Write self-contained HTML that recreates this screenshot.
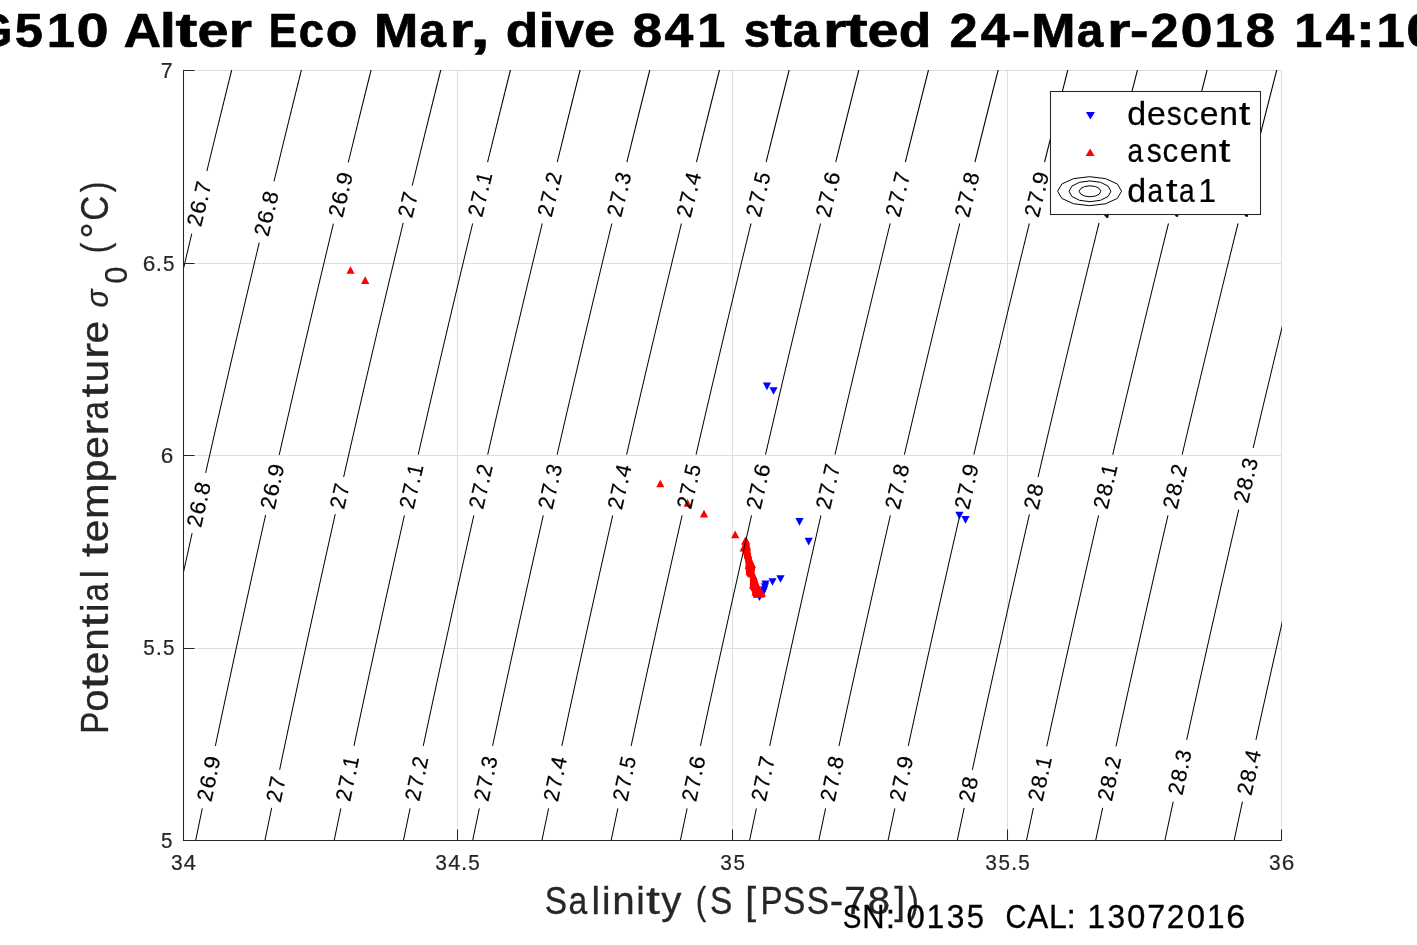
<!DOCTYPE html>
<html><head><meta charset="utf-8"><title>TS diagram</title><style>html,body{margin:0;padding:0;background:#fff;overflow:hidden;}svg{display:block;font-family:"Liberation Sans",sans-serif;will-change:transform;}</style></head><body>
<svg width="1417" height="945" viewBox="0 0 1417 945" font-family="'Liberation Sans', sans-serif"><defs><clipPath id="axclip"><rect x="183" y="70" width="1099" height="771"/></clipPath></defs><rect x="0" y="0" width="1417" height="945" fill="#fff"/>
<line x1="457.5" y1="70" x2="457.5" y2="841" stroke="#dedede" stroke-width="1"/>
<line x1="732.5" y1="70" x2="732.5" y2="841" stroke="#dedede" stroke-width="1"/>
<line x1="1007.5" y1="70" x2="1007.5" y2="841" stroke="#dedede" stroke-width="1"/>
<line x1="1281.5" y1="70" x2="1281.5" y2="841" stroke="#dedede" stroke-width="1"/>
<line x1="183" y1="70.5" x2="1282" y2="70.5" stroke="#dedede" stroke-width="1"/>
<line x1="183" y1="263.5" x2="1282" y2="263.5" stroke="#dedede" stroke-width="1"/>
<line x1="183" y1="455.5" x2="1282" y2="455.5" stroke="#dedede" stroke-width="1"/>
<line x1="183" y1="648.5" x2="1282" y2="648.5" stroke="#dedede" stroke-width="1"/>
<path d="M762.90 382.55L771.10 382.55L767.00 390.25Z" fill="#00f"/>
<path d="M769.40 387.15L777.60 387.15L773.50 394.85Z" fill="#00f"/>
<path d="M795.40 518.05L803.60 518.05L799.50 525.75Z" fill="#00f"/>
<path d="M804.60 537.75L812.80 537.75L808.70 545.45Z" fill="#00f"/>
<path d="M955.30 511.75L963.50 511.75L959.40 519.45Z" fill="#00f"/>
<path d="M961.40 516.05L969.60 516.05L965.50 523.75Z" fill="#00f"/>
<path d="M776.40 575.15L784.60 575.15L780.50 582.85Z" fill="#00f"/>
<path d="M768.40 578.15L776.60 578.15L772.50 585.85Z" fill="#00f"/>
<path d="M761.40 580.45L769.60 580.45L765.50 588.15Z" fill="#00f"/>
<path d="M760.80 583.35L769.00 583.35L764.90 591.05Z" fill="#00f"/>
<path d="M759.90 586.15L768.10 586.15L764.00 593.85Z" fill="#00f"/>
<path d="M759.10 588.15L767.30 588.15L763.20 595.85Z" fill="#00f"/>
<path d="M757.90 590.65L766.10 590.65L762.00 598.35Z" fill="#00f"/>
<path d="M755.40 593.25L763.60 593.25L759.50 600.95Z" fill="#00f"/>
<path d="M350.50 266.15L354.60 273.85L346.40 273.85Z" fill="#f00"/>
<path d="M365.20 276.35L369.30 284.05L361.10 284.05Z" fill="#f00"/>
<path d="M660.30 479.65L664.40 487.35L656.20 487.35Z" fill="#f00"/>
<path d="M687.60 499.05L691.70 506.75L683.50 506.75Z" fill="#f00"/>
<path d="M704.00 509.85L708.10 517.55L699.90 517.55Z" fill="#f00"/>
<path d="M735.20 530.45L739.30 538.15L731.10 538.15Z" fill="#f00"/>
<path d="M746.6 538.1L749.5 543.9L750.3 549.5L751.6 558.2L755.3 567.7L754.5 572.8L757.3 579.9L759.7 586.9L765.3 596.3L764.2 597.5L753.5 597.5L751.5 590.8L749.8 588.5L750.1 577.9L746.4 575.5L745.5 568.5L745.5 562.3L744.5 558.2L742.5 551.2L742.3 544.3Z" fill="#f00"/>
<path d="M745.30 536.85L749.40 544.55L741.20 544.55Z" fill="#f00"/>
<path d="M743.60 543.75L747.70 551.45L739.50 551.45Z" fill="#f00"/>
<path d="M747.90 550.75L752.00 558.45L743.80 558.45Z" fill="#f00"/>
<path d="M749.00 554.85L753.10 562.55L744.90 562.55Z" fill="#f00"/>
<path d="M748.80 561.05L752.90 568.75L744.70 568.75Z" fill="#f00"/>
<path d="M749.60 567.35L753.70 575.05L745.50 575.05Z" fill="#f00"/>
<path d="M753.30 581.05L757.40 588.75L749.20 588.75Z" fill="#f00"/>
<path d="M755.10 583.35L759.20 591.05L751.00 591.05Z" fill="#f00"/>
<path d="M755.50 588.05L759.60 595.75L751.40 595.75Z" fill="#f00"/>
<path d="M757.00 590.05L761.10 597.75L752.90 597.75Z" fill="#f00"/>
<path d="M751.20 569.65L755.30 577.35L747.10 577.35Z" fill="#f00"/>
<path d="M746.10 536.45L750.20 544.15L742.00 544.15Z" fill="#f00"/>
<path d="M746.90 542.05L751.00 549.75L742.80 549.75Z" fill="#f00"/>
<path d="M748.20 550.75L752.30 558.45L744.10 558.45Z" fill="#f00"/>
<path d="M751.90 560.25L756.00 567.95L747.80 567.95Z" fill="#f00"/>
<path d="M753.70 572.45L757.80 580.15L749.60 580.15Z" fill="#f00"/>
<path d="M756.10 579.45L760.20 587.15L752.00 587.15Z" fill="#f00"/>
<path d="M761.80 588.85L765.90 596.55L757.70 596.55Z" fill="#f00"/>
<g clip-path="url(#axclip)" fill="none" stroke="#000" stroke-width="1.05">
<path d="M232.08 68.50L231.58 70.50L231.08 72.50L230.58 74.50L230.09 76.50L229.59 78.50L229.10 80.50L228.60 82.50L228.10 84.50L227.61 86.50L227.11 88.50L226.62 90.50L226.13 92.50L225.63 94.50L225.14 96.50L224.64 98.50L224.15 100.50L223.66 102.50L223.16 104.50L222.67 106.50L222.18 108.50L221.68 110.50L221.19 112.50L220.70 114.50L220.21 116.50L219.72 118.50L219.22 120.50L218.73 122.50L218.24 124.50L217.75 126.50L217.26 128.50L216.77 130.50L216.28 132.50L215.79 134.50L215.30 136.50L214.81 138.50L214.32 140.50L213.83 142.50L213.35 144.50L212.86 146.50L212.37 148.50L211.88 150.50L211.39 152.50L210.91 154.50L210.42 156.50L209.93 158.50L209.44 160.50L208.96 162.50L208.47 164.50L207.98 166.50L207.50 168.50L207.01 170.50L206.84 171.20 M191.80 233.60L191.59 234.50L191.11 236.50L190.63 238.50L190.15 240.50L189.68 242.50L189.20 244.50L188.72 246.50L188.24 248.50L187.77 250.50L187.29 252.50L186.81 254.50L186.34 256.50L185.86 258.50L185.39 260.50L184.91 262.50L184.44 264.50L183.96 266.50L183.49 268.50L183.01 270.50L182.54 272.50L182.06 274.50L181.59 276.50L181.12 278.50L180.64 280.50L180.17 282.50L179.70 284.50L179.23 286.50L178.75 288.50L178.28 290.50L177.81 292.50L177.34 294.50L176.87 296.50L176.39 298.50L175.92 300.50L175.45 302.50L174.98 304.50L174.51 306.50L174.04 308.50L173.57 310.50L173.10 312.50L172.63 314.50L172.16 316.50L171.69 318.50L171.23 320.50L170.76 322.50L170.29 324.50L169.82 326.50L169.35 328.50L168.89 330.50L168.42 332.50L167.95 334.50L167.48 336.50L167.02 338.50L166.55 340.50L166.08 342.50L165.62 344.50L165.15 346.50L164.69 348.50L164.22 350.50L163.76 352.50L163.29 354.50L162.83 356.50L162.36 358.50L161.90 360.50L161.43 362.50L160.97 364.50L160.51 366.50L160.04 368.50L159.58 370.50L159.12 372.50L158.66 374.50L158.19 376.50L157.73 378.50L157.27 380.50L156.81 382.50L156.35 384.50L155.89 386.50L155.42 388.50L154.96 390.50L154.50 392.50L154.04 394.50L153.58 396.50L153.12 398.50L152.66 400.50L152.20 402.50L151.74 404.50L151.29 406.50L150.83 408.50L150.37 410.50L149.91 412.50L149.45 414.50L148.99 416.50L148.54 418.50L148.08 420.50L147.62 422.50L147.17 424.50L146.71 426.50L146.25 428.50L145.80 430.50L145.34 432.50L144.88 434.50L144.43 436.50L143.97 438.50L143.52 440.50L143.06 442.50L142.61 444.50L142.16 446.50L141.70 448.50L141.25 450.50L140.79 452.50L140.34 454.50L139.89 456.50L139.43 458.50L138.98 460.50L138.53 462.50L138.08 464.50L137.62 466.50L137.17 468.50L136.72 470.50L136.27 472.50L135.82 474.50L135.37 476.50L134.92 478.50L134.47 480.50L134.02 482.50L133.57 484.50L133.12 486.50L132.67 488.50L132.22 490.50L131.77 492.50L131.32 494.50L130.87 496.50L130.42 498.50L129.97 500.50L129.53 502.50L129.08 504.50L128.63 506.50L128.18 508.50L127.74 510.50L127.29 512.50L126.84 514.50L126.40 516.50L125.95 518.50L125.51 520.50L125.06 522.50L124.62 524.50L124.17 526.50L123.73 528.50L123.28 530.50L122.84 532.50L122.39 534.50L121.95 536.50L121.50 538.50L121.06 540.50L120.62 542.50L120.17 544.50L119.73 546.50L119.29 548.50L118.85 550.50L118.40 552.50L117.96 554.50L117.52 556.50L117.08 558.50L116.64 560.50L116.20 562.50L115.76 564.50L115.32 566.50L114.88 568.50L114.44 570.50L114.00 572.50L113.56 574.50L113.12 576.50L112.68 578.50L112.24 580.50L111.80 582.50L111.36 584.50L110.92 586.50L110.48 588.50L110.05 590.50L109.61 592.50L109.17 594.50L108.74 596.50L108.30 598.50L107.86 600.50L107.43 602.50L106.99 604.50L106.55 606.50L106.12 608.50L105.68 610.50L105.25 612.50L104.81 614.50L104.38 616.50L103.94 618.50L103.51 620.50L103.07 622.50L102.64 624.50L102.21 626.50L101.77 628.50L101.34 630.50L100.91 632.50L100.47 634.50L100.04 636.50L99.61 638.50L99.18 640.50L98.75 642.50L98.31 644.50L97.88 646.50L97.45 648.50L97.02 650.50L96.59 652.50L96.16 654.50L95.73 656.50L95.30 658.50L94.87 660.50L94.44 662.50L94.01 664.50L93.58 666.50L93.15 668.50L92.73 670.50L92.30 672.50L91.87 674.50L91.44 676.50L91.01 678.50L90.59 680.50L90.16 682.50L89.73 684.50L89.31 686.50L88.88 688.50L88.45 690.50L88.03 692.50L87.60 694.50L87.18 696.50L86.75 698.50L86.33 700.50L85.90 702.50L85.48 704.50L85.05 706.50L84.63 708.50L84.21 710.50L83.78 712.50L83.36 714.50L82.93 716.50L82.51 718.50L82.09 720.50L81.67 722.50L81.24 724.50L80.82 726.50L80.40 728.50L79.98 730.50L79.56 732.50L79.14 734.50L78.72 736.50L78.30 738.50L77.88 740.50L77.45 742.50L77.04 744.50L76.62 746.50L76.20 748.50L75.78 750.50L75.36 752.50L74.94 754.50L74.52 756.50L74.10 758.50L73.68 760.50L73.27 762.50L72.85 764.50L72.43 766.50L72.01 768.50L71.60 770.50L71.18 772.50L70.76 774.50L70.35 776.50L69.93 778.50L69.52 780.50L69.10 782.50L68.69 784.50L68.27 786.50L67.86 788.50L67.44 790.50L67.03 792.50L66.61 794.50L66.20 796.50L65.79 798.50L65.37 800.50L64.96 802.50L64.55 804.50L64.13 806.50L63.72 808.50L63.31 810.50L62.90 812.50L62.49 814.50L62.07 816.50L61.66 818.50L61.25 820.50L60.84 822.50L60.43 824.50L60.02 826.50L59.61 828.50L59.20 830.50L58.79 832.50L58.38 834.50L57.97 836.50L57.56 838.50L57.15 840.50L56.75 842.50 M301.77 68.50L301.27 70.50L300.78 72.50L300.28 74.50L299.78 76.50L299.28 78.50L298.79 80.50L298.29 82.50L297.79 84.50L297.30 86.50L296.80 88.50L296.30 90.50L295.81 92.50L295.31 94.50L294.82 96.50L294.32 98.50L293.83 100.50L293.33 102.50L292.84 104.50L292.34 106.50L291.85 108.50L291.36 110.50L290.86 112.50L290.37 114.50L289.88 116.50L289.38 118.50L288.89 120.50L288.40 122.50L287.91 124.50L287.42 126.50L286.92 128.50L286.43 130.50L285.94 132.50L285.45 134.50L284.96 136.50L284.47 138.50L283.98 140.50L283.49 142.50L283.00 144.50L282.51 146.50L282.02 148.50L281.53 150.50L281.04 152.50L280.55 154.50L280.07 156.50L279.58 158.50L279.09 160.50L278.60 162.50L278.11 164.50L277.63 166.50L277.14 168.50L276.65 170.50L276.17 172.50L275.68 174.50L275.19 176.50L274.71 178.50L274.22 180.50L274.03 181.30 M259.23 242.70L258.80 244.50L258.32 246.50L257.84 248.50L257.36 250.50L256.89 252.50L256.41 254.50L255.93 256.50L255.45 258.50L254.98 260.50L254.50 262.50L254.02 264.50L253.55 266.50L253.07 268.50L252.60 270.50L252.12 272.50L251.65 274.50L251.17 276.50L250.70 278.50L250.22 280.50L249.75 282.50L249.27 284.50L248.80 286.50L248.33 288.50L247.85 290.50L247.38 292.50L246.91 294.50L246.44 296.50L245.96 298.50L245.49 300.50L245.02 302.50L244.55 304.50L244.08 306.50L243.60 308.50L243.13 310.50L242.66 312.50L242.19 314.50L241.72 316.50L241.25 318.50L240.78 320.50L240.31 322.50L239.84 324.50L239.37 326.50L238.90 328.50L238.44 330.50L237.97 332.50L237.50 334.50L237.03 336.50L236.56 338.50L236.10 340.50L235.63 342.50L235.16 344.50L234.69 346.50L234.23 348.50L233.76 350.50L233.30 352.50L232.83 354.50L232.36 356.50L231.90 358.50L231.43 360.50L230.97 362.50L230.50 364.50L230.04 366.50L229.57 368.50L229.11 370.50L228.65 372.50L228.18 374.50L227.72 376.50L227.26 378.50L226.79 380.50L226.33 382.50L225.87 384.50L225.40 386.50L224.94 388.50L224.48 390.50L224.02 392.50L223.56 394.50L223.10 396.50L222.64 398.50L222.17 400.50L221.71 402.50L221.25 404.50L220.79 406.50L220.33 408.50L219.87 410.50L219.41 412.50L218.96 414.50L218.50 416.50L218.04 418.50L217.58 420.50L217.12 422.50L216.66 424.50L216.21 426.50L215.75 428.50L215.29 430.50L214.83 432.50L214.38 434.50L213.92 436.50L213.46 438.50L213.01 440.50L212.55 442.50L212.10 444.50L211.64 446.50L211.19 448.50L210.73 450.50L210.28 452.50L209.82 454.50L209.37 456.50L208.91 458.50L208.46 460.50L208.00 462.50L207.55 464.50L207.10 466.50L206.65 468.50L206.19 470.50L205.74 472.50L205.67 472.80 M192.12 533.20L191.83 534.50L191.38 536.50L190.94 538.50L190.49 540.50L190.05 542.50L189.60 544.50L189.16 546.50L188.72 548.50L188.27 550.50L187.83 552.50L187.39 554.50L186.94 556.50L186.50 558.50L186.06 560.50L185.62 562.50L185.17 564.50L184.73 566.50L184.29 568.50L183.85 570.50L183.41 572.50L182.97 574.50L182.53 576.50L182.09 578.50L181.65 580.50L181.21 582.50L180.77 584.50L180.33 586.50L179.89 588.50L179.45 590.50L179.01 592.50L178.57 594.50L178.13 596.50L177.70 598.50L177.26 600.50L176.82 602.50L176.38 604.50L175.95 606.50L175.51 608.50L175.07 610.50L174.64 612.50L174.20 614.50L173.76 616.50L173.33 618.50L172.89 620.50L172.46 622.50L172.02 624.50L171.59 626.50L171.15 628.50L170.72 630.50L170.29 632.50L169.85 634.50L169.42 636.50L168.99 638.50L168.55 640.50L168.12 642.50L167.69 644.50L167.25 646.50L166.82 648.50L166.39 650.50L165.96 652.50L165.53 654.50L165.10 656.50L164.66 658.50L164.23 660.50L163.80 662.50L163.37 664.50L162.94 666.50L162.51 668.50L162.08 670.50L161.65 672.50L161.22 674.50L160.80 676.50L160.37 678.50L159.94 680.50L159.51 682.50L159.08 684.50L158.65 686.50L158.23 688.50L157.80 690.50L157.37 692.50L156.95 694.50L156.52 696.50L156.09 698.50L155.67 700.50L155.24 702.50L154.81 704.50L154.39 706.50L153.96 708.50L153.54 710.50L153.11 712.50L152.69 714.50L152.26 716.50L151.84 718.50L151.42 720.50L150.99 722.50L150.57 724.50L150.15 726.50L149.72 728.50L149.30 730.50L148.88 732.50L148.46 734.50L148.03 736.50L147.61 738.50L147.19 740.50L146.77 742.50L146.35 744.50L145.93 746.50L145.51 748.50L145.09 750.50L144.67 752.50L144.25 754.50L143.83 756.50L143.41 758.50L142.99 760.50L142.57 762.50L142.15 764.50L141.73 766.50L141.31 768.50L140.90 770.50L140.48 772.50L140.06 774.50L139.64 776.50L139.23 778.50L138.81 780.50L138.39 782.50L137.98 784.50L137.56 786.50L137.14 788.50L136.73 790.50L136.31 792.50L135.90 794.50L135.48 796.50L135.07 798.50L134.65 800.50L134.24 802.50L133.83 804.50L133.41 806.50L133.00 808.50L132.58 810.50L132.17 812.50L131.76 814.50L131.35 816.50L130.93 818.50L130.52 820.50L130.11 822.50L129.70 824.50L129.29 826.50L128.87 828.50L128.46 830.50L128.05 832.50L127.64 834.50L127.23 836.50L126.82 838.50L126.41 840.50L126.00 842.50 M371.46 68.50L370.96 70.50L370.47 72.50L369.97 74.50L369.47 76.50L368.97 78.50L368.47 80.50L367.97 82.50L367.48 84.50L366.98 86.50L366.48 88.50L365.98 90.50L365.49 92.50L364.99 94.50L364.49 96.50L364.00 98.50L363.50 100.50L363.01 102.50L362.51 104.50L362.02 106.50L361.52 108.50L361.03 110.50L360.53 112.50L360.04 114.50L359.54 116.50L359.05 118.50L358.56 120.50L358.06 122.50L357.57 124.50L357.08 126.50L356.58 128.50L356.09 130.50L355.60 132.50L355.11 134.50L354.62 136.50L354.12 138.50L353.63 140.50L353.14 142.50L352.65 144.50L352.16 146.50L351.67 148.50L351.18 150.50L350.69 152.50L350.20 154.50L349.71 156.50L349.22 158.50L348.73 160.50L348.29 162.30 M333.39 223.70L333.20 224.50L332.72 226.50L332.24 228.50L331.75 230.50L331.27 232.50L330.79 234.50L330.31 236.50L329.83 238.50L329.35 240.50L328.87 242.50L328.39 244.50L327.91 246.50L327.43 248.50L326.95 250.50L326.48 252.50L326.00 254.50L325.52 256.50L325.04 258.50L324.56 260.50L324.09 262.50L323.61 264.50L323.13 266.50L322.65 268.50L322.18 270.50L321.70 272.50L321.23 274.50L320.75 276.50L320.27 278.50L319.80 280.50L319.32 282.50L318.85 284.50L318.37 286.50L317.90 288.50L317.42 290.50L316.95 292.50L316.48 294.50L316.00 296.50L315.53 298.50L315.06 300.50L314.58 302.50L314.11 304.50L313.64 306.50L313.16 308.50L312.69 310.50L312.22 312.50L311.75 314.50L311.28 316.50L310.81 318.50L310.34 320.50L309.86 322.50L309.39 324.50L308.92 326.50L308.45 328.50L307.98 330.50L307.51 332.50L307.04 334.50L306.58 336.50L306.11 338.50L305.64 340.50L305.17 342.50L304.70 344.50L304.23 346.50L303.77 348.50L303.30 350.50L302.83 352.50L302.36 354.50L301.90 356.50L301.43 358.50L300.96 360.50L300.50 362.50L300.03 364.50L299.57 366.50L299.10 368.50L298.63 370.50L298.17 372.50L297.70 374.50L297.24 376.50L296.78 378.50L296.31 380.50L295.85 382.50L295.38 384.50L294.92 386.50L294.46 388.50L293.99 390.50L293.53 392.50L293.07 394.50L292.61 396.50L292.14 398.50L291.68 400.50L291.22 402.50L290.76 404.50L290.30 406.50L289.84 408.50L289.38 410.50L288.92 412.50L288.46 414.50L288.00 416.50L287.54 418.50L287.08 420.50L286.62 422.50L286.16 424.50L285.70 426.50L285.24 428.50L284.78 430.50L284.32 432.50L283.87 434.50L283.41 436.50L282.95 438.50L282.49 440.50L282.04 442.50L281.58 444.50L281.12 446.50L280.67 448.50L280.21 450.50L279.75 452.50L279.30 454.50L279.23 454.80 M265.58 515.20L265.29 516.50L264.84 518.50L264.39 520.50L263.94 522.50L263.49 524.50L263.05 526.50L262.60 528.50L262.15 530.50L261.70 532.50L261.26 534.50L260.81 536.50L260.37 538.50L259.92 540.50L259.47 542.50L259.03 544.50L258.58 546.50L258.14 548.50L257.69 550.50L257.25 552.50L256.81 554.50L256.36 556.50L255.92 558.50L255.47 560.50L255.03 562.50L254.59 564.50L254.15 566.50L253.70 568.50L253.26 570.50L252.82 572.50L252.38 574.50L251.93 576.50L251.49 578.50L251.05 580.50L250.61 582.50L250.17 584.50L249.73 586.50L249.29 588.50L248.85 590.50L248.41 592.50L247.97 594.50L247.53 596.50L247.09 598.50L246.65 600.50L246.21 602.50L245.78 604.50L245.34 606.50L244.90 608.50L244.46 610.50L244.02 612.50L243.59 614.50L243.15 616.50L242.71 618.50L242.28 620.50L241.84 622.50L241.40 624.50L240.97 626.50L240.53 628.50L240.10 630.50L239.66 632.50L239.23 634.50L238.79 636.50L238.36 638.50L237.92 640.50L237.49 642.50L237.05 644.50L236.62 646.50L236.19 648.50L235.75 650.50L235.32 652.50L234.89 654.50L234.46 656.50L234.02 658.50L233.59 660.50L233.16 662.50L232.73 664.50L232.30 666.50L231.87 668.50L231.44 670.50L231.01 672.50L230.58 674.50L230.15 676.50L229.72 678.50L229.29 680.50L228.86 682.50L228.43 684.50L228.00 686.50L227.57 688.50L227.14 690.50L226.71 692.50L226.28 694.50L225.86 696.50L225.43 698.50L225.00 700.50L224.57 702.50L224.15 704.50L223.72 706.50L223.29 708.50L222.87 710.50L222.44 712.50L222.02 714.50L221.59 716.50L221.17 718.50L220.74 720.50L220.32 722.50L219.89 724.50L219.47 726.50L219.04 728.50L218.62 730.50L218.20 732.50L217.77 734.50L217.35 736.50L216.93 738.50L216.50 740.50L216.08 742.50L215.66 744.50L215.36 745.90 M202.31 808.30L202.27 808.50L201.86 810.50L201.44 812.50L201.03 814.50L200.61 816.50L200.20 818.50L199.79 820.50L199.37 822.50L198.96 824.50L198.55 826.50L198.14 828.50L197.72 830.50L197.31 832.50L196.90 834.50L196.49 836.50L196.08 838.50L195.67 840.50L195.25 842.50 M441.15 68.50L440.65 70.50L440.15 72.50L439.65 74.50L439.15 76.50L438.65 78.50L438.15 80.50L437.66 82.50L437.16 84.50L436.66 86.50L436.16 88.50L435.66 90.50L435.16 92.50L434.67 94.50L434.17 96.50L433.67 98.50L433.17 100.50L432.68 102.50L432.18 104.50L431.68 106.50L431.19 108.50L430.69 110.50L430.20 112.50L429.70 114.50L429.21 116.50L428.71 118.50L428.22 120.50L427.72 122.50L427.23 124.50L426.73 126.50L426.24 128.50L425.75 130.50L425.25 132.50L424.76 134.50L424.27 136.50L423.77 138.50L423.28 140.50L422.79 142.50L422.30 144.50L421.81 146.50L421.31 148.50L420.82 150.50L420.33 152.50L419.84 154.50L419.35 156.50L418.86 158.50L418.37 160.50L417.88 162.50L417.39 164.50L416.90 166.50L416.41 168.50L415.92 170.50L415.43 172.50L414.94 174.50L414.46 176.50L413.97 178.50L413.48 180.50L412.99 182.50L412.50 184.50L412.24 185.60 M403.16 223.00L402.80 224.50L402.32 226.50L401.84 228.50L401.35 230.50L400.87 232.50L400.39 234.50L399.91 236.50L399.43 238.50L398.95 240.50L398.47 242.50L397.98 244.50L397.50 246.50L397.02 248.50L396.54 250.50L396.06 252.50L395.58 254.50L395.10 256.50L394.63 258.50L394.15 260.50L393.67 262.50L393.19 264.50L392.71 266.50L392.23 268.50L391.76 270.50L391.28 272.50L390.80 274.50L390.32 276.50L389.85 278.50L389.37 280.50L388.89 282.50L388.42 284.50L387.94 286.50L387.47 288.50L386.99 290.50L386.51 292.50L386.04 294.50L385.56 296.50L385.09 298.50L384.62 300.50L384.14 302.50L383.67 304.50L383.19 306.50L382.72 308.50L382.25 310.50L381.77 312.50L381.30 314.50L380.83 316.50L380.36 318.50L379.88 320.50L379.41 322.50L378.94 324.50L378.47 326.50L378.00 328.50L377.53 330.50L377.06 332.50L376.59 334.50L376.12 336.50L375.65 338.50L375.18 340.50L374.71 342.50L374.24 344.50L373.77 346.50L373.30 348.50L372.83 350.50L372.36 352.50L371.89 354.50L371.43 356.50L370.96 358.50L370.49 360.50L370.02 362.50L369.56 364.50L369.09 366.50L368.62 368.50L368.16 370.50L367.69 372.50L367.22 374.50L366.76 376.50L366.29 378.50L365.83 380.50L365.36 382.50L364.90 384.50L364.43 386.50L363.97 388.50L363.50 390.50L363.04 392.50L362.58 394.50L362.11 396.50L361.65 398.50L361.19 400.50L360.72 402.50L360.26 404.50L359.80 406.50L359.34 408.50L358.88 410.50L358.41 412.50L357.95 414.50L357.49 416.50L357.03 418.50L356.57 420.50L356.11 422.50L355.65 424.50L355.19 426.50L354.73 428.50L354.27 430.50L353.81 432.50L353.35 434.50L352.89 436.50L352.43 438.50L351.97 440.50L351.52 442.50L351.06 444.50L350.60 446.50L350.14 448.50L349.69 450.50L349.23 452.50L348.77 454.50L348.32 456.50L347.86 458.50L347.40 460.50L346.95 462.50L346.49 464.50L346.04 466.50L345.58 468.50L345.13 470.50L344.67 472.50L344.22 474.50L343.76 476.50L343.65 477.00 M335.26 514.10L335.17 514.50L334.72 516.50L334.27 518.50L333.83 520.50L333.38 522.50L332.93 524.50L332.48 526.50L332.03 528.50L331.58 530.50L331.13 532.50L330.69 534.50L330.24 536.50L329.79 538.50L329.35 540.50L328.90 542.50L328.45 544.50L328.01 546.50L327.56 548.50L327.11 550.50L326.67 552.50L326.22 554.50L325.78 556.50L325.33 558.50L324.89 560.50L324.44 562.50L324.00 564.50L323.56 566.50L323.11 568.50L322.67 570.50L322.22 572.50L321.78 574.50L321.34 576.50L320.90 578.50L320.45 580.50L320.01 582.50L319.57 584.50L319.13 586.50L318.69 588.50L318.25 590.50L317.80 592.50L317.36 594.50L316.92 596.50L316.48 598.50L316.04 600.50L315.60 602.50L315.16 604.50L314.72 606.50L314.29 608.50L313.85 610.50L313.41 612.50L312.97 614.50L312.53 616.50L312.09 618.50L311.66 620.50L311.22 622.50L310.78 624.50L310.34 626.50L309.91 628.50L309.47 630.50L309.03 632.50L308.60 634.50L308.16 636.50L307.73 638.50L307.29 640.50L306.85 642.50L306.42 644.50L305.99 646.50L305.55 648.50L305.12 650.50L304.68 652.50L304.25 654.50L303.81 656.50L303.38 658.50L302.95 660.50L302.52 662.50L302.08 664.50L301.65 666.50L301.22 668.50L300.79 670.50L300.35 672.50L299.92 674.50L299.49 676.50L299.06 678.50L298.63 680.50L298.20 682.50L297.77 684.50L297.34 686.50L296.91 688.50L296.48 690.50L296.05 692.50L295.62 694.50L295.19 696.50L294.76 698.50L294.33 700.50L293.91 702.50L293.48 704.50L293.05 706.50L292.62 708.50L292.20 710.50L291.77 712.50L291.34 714.50L290.91 716.50L290.49 718.50L290.06 720.50L289.64 722.50L289.21 724.50L288.78 726.50L288.36 728.50L287.93 730.50L287.51 732.50L287.09 734.50L286.66 736.50L286.24 738.50L285.81 740.50L285.39 742.50L284.97 744.50L284.54 746.50L284.12 748.50L283.70 750.50L283.27 752.50L282.85 754.50L282.43 756.50L282.01 758.50L281.59 760.50L281.17 762.50L280.74 764.50L280.32 766.50L279.90 768.50L279.63 769.80 M271.66 807.90L271.54 808.50L271.12 810.50L270.71 812.50L270.29 814.50L269.88 816.50L269.46 818.50L269.05 820.50L268.63 822.50L268.22 824.50L267.81 826.50L267.39 828.50L266.98 830.50L266.57 832.50L266.15 834.50L265.74 836.50L265.33 838.50L264.92 840.50L264.50 842.50 M510.84 68.50L510.34 70.50L509.84 72.50L509.33 74.50L508.83 76.50L508.33 78.50L507.83 80.50L507.33 82.50L506.83 84.50L506.33 86.50L505.83 88.50L505.33 90.50L504.84 92.50L504.34 94.50L503.84 96.50L503.34 98.50L502.84 100.50L502.34 102.50L501.85 104.50L501.35 106.50L500.85 108.50L500.36 110.50L499.86 112.50L499.36 114.50L498.87 116.50L498.37 118.50L497.87 120.50L497.38 122.50L496.88 124.50L496.39 126.50L495.89 128.50L495.40 130.50L494.90 132.50L494.41 134.50L493.92 136.50L493.42 138.50L492.93 140.50L492.43 142.50L491.94 144.50L491.45 146.50L490.96 148.50L490.46 150.50L489.97 152.50L489.48 154.50L488.99 156.50L488.50 158.50L488.00 160.50L487.59 162.20 M472.64 223.50L472.40 224.50L471.92 226.50L471.43 228.50L470.95 230.50L470.47 232.50L469.98 234.50L469.50 236.50L469.02 238.50L468.54 240.50L468.05 242.50L467.57 244.50L467.09 246.50L466.61 248.50L466.13 250.50L465.65 252.50L465.17 254.50L464.69 256.50L464.21 258.50L463.73 260.50L463.25 262.50L462.77 264.50L462.29 266.50L461.81 268.50L461.33 270.50L460.85 272.50L460.37 274.50L459.89 276.50L459.42 278.50L458.94 280.50L458.46 282.50L457.98 284.50L457.51 286.50L457.03 288.50L456.55 290.50L456.08 292.50L455.60 294.50L455.12 296.50L454.65 298.50L454.17 300.50L453.70 302.50L453.22 304.50L452.75 306.50L452.27 308.50L451.80 310.50L451.32 312.50L450.85 314.50L450.38 316.50L449.90 318.50L449.43 320.50L448.96 322.50L448.48 324.50L448.01 326.50L447.54 328.50L447.07 330.50L446.60 332.50L446.12 334.50L445.65 336.50L445.18 338.50L444.71 340.50L444.24 342.50L443.77 344.50L443.30 346.50L442.83 348.50L442.36 350.50L441.89 352.50L441.42 354.50L440.95 356.50L440.48 358.50L440.01 360.50L439.55 362.50L439.08 364.50L438.61 366.50L438.14 368.50L437.67 370.50L437.21 372.50L436.74 374.50L436.27 376.50L435.81 378.50L435.34 380.50L434.87 382.50L434.41 384.50L433.94 386.50L433.48 388.50L433.01 390.50L432.55 392.50L432.08 394.50L431.62 396.50L431.15 398.50L430.69 400.50L430.22 402.50L429.76 404.50L429.30 406.50L428.83 408.50L428.37 410.50L427.91 412.50L427.45 414.50L426.98 416.50L426.52 418.50L426.06 420.50L425.60 422.50L425.14 424.50L424.67 426.50L424.21 428.50L423.75 430.50L423.29 432.50L422.83 434.50L422.37 436.50L421.91 438.50L421.45 440.50L420.99 442.50L420.53 444.50L420.08 446.50L419.62 448.50L419.16 450.50L418.70 452.50L418.24 454.50L418.22 454.60 M404.43 515.30L404.16 516.50L403.71 518.50L403.26 520.50L402.81 522.50L402.36 524.50L401.91 526.50L401.46 528.50L401.01 530.50L400.56 532.50L400.11 534.50L399.66 536.50L399.21 538.50L398.77 540.50L398.32 542.50L397.87 544.50L397.42 546.50L396.98 548.50L396.53 550.50L396.08 552.50L395.64 554.50L395.19 556.50L394.74 558.50L394.30 560.50L393.85 562.50L393.41 564.50L392.96 566.50L392.52 568.50L392.07 570.50L391.63 572.50L391.18 574.50L390.74 576.50L390.30 578.50L389.85 580.50L389.41 582.50L388.97 584.50L388.52 586.50L388.08 588.50L387.64 590.50L387.20 592.50L386.75 594.50L386.31 596.50L385.87 598.50L385.43 600.50L384.99 602.50L384.55 604.50L384.11 606.50L383.67 608.50L383.23 610.50L382.79 612.50L382.35 614.50L381.91 616.50L381.47 618.50L381.03 620.50L380.59 622.50L380.15 624.50L379.72 626.50L379.28 628.50L378.84 630.50L378.40 632.50L377.96 634.50L377.53 636.50L377.09 638.50L376.65 640.50L376.22 642.50L375.78 644.50L375.35 646.50L374.91 648.50L374.47 650.50L374.04 652.50L373.60 654.50L373.17 656.50L372.74 658.50L372.30 660.50L371.87 662.50L371.43 664.50L371.00 666.50L370.57 668.50L370.13 670.50L369.70 672.50L369.27 674.50L368.83 676.50L368.40 678.50L367.97 680.50L367.54 682.50L367.11 684.50L366.68 686.50L366.25 688.50L365.81 690.50L365.38 692.50L364.95 694.50L364.52 696.50L364.09 698.50L363.66 700.50L363.23 702.50L362.81 704.50L362.38 706.50L361.95 708.50L361.52 710.50L361.09 712.50L360.66 714.50L360.23 716.50L359.81 718.50L359.38 720.50L358.95 722.50L358.53 724.50L358.10 726.50L357.67 728.50L357.25 730.50L356.82 732.50L356.39 734.50L355.97 736.50L355.54 738.50L355.12 740.50L354.69 742.50L354.27 744.50L353.97 745.90 M340.85 808.30L340.81 808.50L340.39 810.50L339.97 812.50L339.56 814.50L339.14 816.50L338.72 818.50L338.31 820.50L337.89 822.50L337.48 824.50L337.06 826.50L336.65 828.50L336.23 830.50L335.82 832.50L335.41 834.50L334.99 836.50L334.58 838.50L334.16 840.50L333.75 842.50 M580.52 68.50L580.02 70.50L579.52 72.50L579.01 74.50L578.51 76.50L578.01 78.50L577.51 80.50L577.01 82.50L576.51 84.50L576.01 86.50L575.50 88.50L575.00 90.50L574.50 92.50L574.00 94.50L573.51 96.50L573.01 98.50L572.51 100.50L572.01 102.50L571.51 104.50L571.01 106.50L570.51 108.50L570.01 110.50L569.52 112.50L569.02 114.50L568.52 116.50L568.02 118.50L567.53 120.50L567.03 122.50L566.53 124.50L566.04 126.50L565.54 128.50L565.05 130.50L564.55 132.50L564.06 134.50L563.56 136.50L563.07 138.50L562.57 140.50L562.08 142.50L561.58 144.50L561.09 146.50L560.59 148.50L560.10 150.50L559.61 152.50L559.11 154.50L558.62 156.50L558.13 158.50L557.64 160.50L557.22 162.20 M542.24 223.50L542.00 224.50L541.51 226.50L541.03 228.50L540.54 230.50L540.06 232.50L539.57 234.50L539.09 236.50L538.61 238.50L538.12 240.50L537.64 242.50L537.16 244.50L536.67 246.50L536.19 248.50L535.71 250.50L535.23 252.50L534.75 254.50L534.26 256.50L533.78 258.50L533.30 260.50L532.82 262.50L532.34 264.50L531.86 266.50L531.38 268.50L530.90 270.50L530.42 272.50L529.94 274.50L529.46 276.50L528.98 278.50L528.50 280.50L528.02 282.50L527.55 284.50L527.07 286.50L526.59 288.50L526.11 290.50L525.63 292.50L525.16 294.50L524.68 296.50L524.20 298.50L523.73 300.50L523.25 302.50L522.77 304.50L522.30 306.50L521.82 308.50L521.35 310.50L520.87 312.50L520.40 314.50L519.92 316.50L519.45 318.50L518.97 320.50L518.50 322.50L518.03 324.50L517.55 326.50L517.08 328.50L516.60 330.50L516.13 332.50L515.66 334.50L515.19 336.50L514.71 338.50L514.24 340.50L513.77 342.50L513.30 344.50L512.83 346.50L512.36 348.50L511.89 350.50L511.41 352.50L510.94 354.50L510.47 356.50L510.00 358.50L509.53 360.50L509.06 362.50L508.59 364.50L508.13 366.50L507.66 368.50L507.19 370.50L506.72 372.50L506.25 374.50L505.78 376.50L505.32 378.50L504.85 380.50L504.38 382.50L503.91 384.50L503.45 386.50L502.98 388.50L502.51 390.50L502.05 392.50L501.58 394.50L501.12 396.50L500.65 398.50L500.19 400.50L499.72 402.50L499.26 404.50L498.79 406.50L498.33 408.50L497.86 410.50L497.40 412.50L496.93 414.50L496.47 416.50L496.01 418.50L495.55 420.50L495.08 422.50L494.62 424.50L494.16 426.50L493.70 428.50L493.23 430.50L492.77 432.50L492.31 434.50L491.85 436.50L491.39 438.50L490.93 440.50L490.47 442.50L490.01 444.50L489.55 446.50L489.09 448.50L488.63 450.50L488.17 452.50L487.71 454.50L487.69 454.60 M473.86 515.30L473.59 516.50L473.14 518.50L472.69 520.50L472.24 522.50L471.79 524.50L471.33 526.50L470.88 528.50L470.43 530.50L469.98 532.50L469.53 534.50L469.08 536.50L468.63 538.50L468.18 540.50L467.74 542.50L467.29 544.50L466.84 546.50L466.39 548.50L465.94 550.50L465.49 552.50L465.05 554.50L464.60 556.50L464.15 558.50L463.70 560.50L463.26 562.50L462.81 564.50L462.37 566.50L461.92 568.50L461.47 570.50L461.03 572.50L460.58 574.50L460.14 576.50L459.69 578.50L459.25 580.50L458.80 582.50L458.36 584.50L457.92 586.50L457.47 588.50L457.03 590.50L456.58 592.50L456.14 594.50L455.70 596.50L455.26 598.50L454.81 600.50L454.37 602.50L453.93 604.50L453.49 606.50L453.05 608.50L452.61 610.50L452.16 612.50L451.72 614.50L451.28 616.50L450.84 618.50L450.40 620.50L449.96 622.50L449.52 624.50L449.08 626.50L448.65 628.50L448.21 630.50L447.77 632.50L447.33 634.50L446.89 636.50L446.45 638.50L446.02 640.50L445.58 642.50L445.14 644.50L444.70 646.50L444.27 648.50L443.83 650.50L443.39 652.50L442.96 654.50L442.52 656.50L442.09 658.50L441.65 660.50L441.21 662.50L440.78 664.50L440.35 666.50L439.91 668.50L439.48 670.50L439.04 672.50L438.61 674.50L438.17 676.50L437.74 678.50L437.31 680.50L436.88 682.50L436.44 684.50L436.01 686.50L435.58 688.50L435.15 690.50L434.71 692.50L434.28 694.50L433.85 696.50L433.42 698.50L432.99 700.50L432.56 702.50L432.13 704.50L431.70 706.50L431.27 708.50L430.84 710.50L430.41 712.50L429.98 714.50L429.55 716.50L429.12 718.50L428.69 720.50L428.27 722.50L427.84 724.50L427.41 726.50L426.98 728.50L426.56 730.50L426.13 732.50L425.70 734.50L425.27 736.50L424.85 738.50L424.42 740.50L424.00 742.50L423.57 744.50L423.27 745.90 M410.11 808.30L410.07 808.50L409.65 810.50L409.23 812.50L408.82 814.50L408.40 816.50L407.98 818.50L407.56 820.50L407.15 822.50L406.73 824.50L406.32 826.50L405.90 828.50L405.48 830.50L405.07 832.50L404.65 834.50L404.24 836.50L403.82 838.50L403.41 840.50L402.99 842.50 M650.20 68.50L649.69 70.50L649.19 72.50L648.69 74.50L648.19 76.50L647.68 78.50L647.18 80.50L646.68 82.50L646.18 84.50L645.67 86.50L645.17 88.50L644.67 90.50L644.17 92.50L643.67 94.50L643.17 96.50L642.67 98.50L642.17 100.50L641.67 102.50L641.17 104.50L640.67 106.50L640.17 108.50L639.67 110.50L639.17 112.50L638.67 114.50L638.17 116.50L637.68 118.50L637.18 120.50L636.68 122.50L636.18 124.50L635.68 126.50L635.19 128.50L634.69 130.50L634.19 132.50L633.70 134.50L633.20 136.50L632.71 138.50L632.21 140.50L631.71 142.50L631.22 144.50L630.72 146.50L630.23 148.50L629.73 150.50L629.24 152.50L628.75 154.50L628.25 156.50L627.76 158.50L627.26 160.50L626.84 162.20 M611.83 223.50L611.59 224.50L611.10 226.50L610.62 228.50L610.13 230.50L609.65 232.50L609.16 234.50L608.68 236.50L608.19 238.50L607.71 240.50L607.22 242.50L606.74 244.50L606.26 246.50L605.77 248.50L605.29 250.50L604.81 252.50L604.32 254.50L603.84 256.50L603.36 258.50L602.87 260.50L602.39 262.50L601.91 264.50L601.43 266.50L600.95 268.50L600.47 270.50L599.99 272.50L599.51 274.50L599.02 276.50L598.54 278.50L598.06 280.50L597.58 282.50L597.11 284.50L596.63 286.50L596.15 288.50L595.67 290.50L595.19 292.50L594.71 294.50L594.23 296.50L593.75 298.50L593.28 300.50L592.80 302.50L592.32 304.50L591.85 306.50L591.37 308.50L590.89 310.50L590.42 312.50L589.94 314.50L589.46 316.50L588.99 318.50L588.51 320.50L588.04 322.50L587.56 324.50L587.09 326.50L586.61 328.50L586.14 330.50L585.66 332.50L585.19 334.50L584.72 336.50L584.24 338.50L583.77 340.50L583.30 342.50L582.82 344.50L582.35 346.50L581.88 348.50L581.41 350.50L580.94 352.50L580.46 354.50L579.99 356.50L579.52 358.50L579.05 360.50L578.58 362.50L578.11 364.50L577.64 366.50L577.17 368.50L576.70 370.50L576.23 372.50L575.76 374.50L575.29 376.50L574.82 378.50L574.35 380.50L573.89 382.50L573.42 384.50L572.95 386.50L572.48 388.50L572.01 390.50L571.55 392.50L571.08 394.50L570.61 396.50L570.15 398.50L569.68 400.50L569.21 402.50L568.75 404.50L568.28 406.50L567.82 408.50L567.35 410.50L566.89 412.50L566.42 414.50L565.96 416.50L565.49 418.50L565.03 420.50L564.56 422.50L564.10 424.50L563.64 426.50L563.17 428.50L562.71 430.50L562.25 432.50L561.79 434.50L561.32 436.50L560.86 438.50L560.40 440.50L559.94 442.50L559.48 444.50L559.02 446.50L558.55 448.50L558.09 450.50L557.63 452.50L557.17 454.50L557.15 454.60 M543.29 515.30L543.02 516.50L542.57 518.50L542.11 520.50L541.66 522.50L541.21 524.50L540.76 526.50L540.31 528.50L539.85 530.50L539.40 532.50L538.95 534.50L538.50 536.50L538.05 538.50L537.60 540.50L537.15 542.50L536.70 544.50L536.25 546.50L535.80 548.50L535.35 550.50L534.90 552.50L534.45 554.50L534.00 556.50L533.56 558.50L533.11 560.50L532.66 562.50L532.21 564.50L531.77 566.50L531.32 568.50L530.87 570.50L530.42 572.50L529.98 574.50L529.53 576.50L529.09 578.50L528.64 580.50L528.19 582.50L527.75 584.50L527.30 586.50L526.86 588.50L526.41 590.50L525.97 592.50L525.53 594.50L525.08 596.50L524.64 598.50L524.19 600.50L523.75 602.50L523.31 604.50L522.87 606.50L522.42 608.50L521.98 610.50L521.54 612.50L521.10 614.50L520.65 616.50L520.21 618.50L519.77 620.50L519.33 622.50L518.89 624.50L518.45 626.50L518.01 628.50L517.57 630.50L517.13 632.50L516.69 634.50L516.25 636.50L515.81 638.50L515.37 640.50L514.93 642.50L514.50 644.50L514.06 646.50L513.62 648.50L513.18 650.50L512.74 652.50L512.31 654.50L511.87 656.50L511.43 658.50L511.00 660.50L510.56 662.50L510.12 664.50L509.69 666.50L509.25 668.50L508.82 670.50L508.38 672.50L507.95 674.50L507.51 676.50L507.08 678.50L506.64 680.50L506.21 682.50L505.77 684.50L505.34 686.50L504.91 688.50L504.47 690.50L504.04 692.50L503.61 694.50L503.18 696.50L502.74 698.50L502.31 700.50L501.88 702.50L501.45 704.50L501.02 706.50L500.59 708.50L500.16 710.50L499.73 712.50L499.30 714.50L498.87 716.50L498.44 718.50L498.01 720.50L497.58 722.50L497.15 724.50L496.72 726.50L496.29 728.50L495.86 730.50L495.43 732.50L495.00 734.50L494.58 736.50L494.15 738.50L493.72 740.50L493.29 742.50L492.87 744.50L492.57 745.90 M479.37 808.30L479.33 808.50L478.91 810.50L478.49 812.50L478.07 814.50L477.65 816.50L477.24 818.50L476.82 820.50L476.40 822.50L475.98 824.50L475.56 826.50L475.15 828.50L474.73 830.50L474.31 832.50L473.90 834.50L473.48 836.50L473.07 838.50L472.65 840.50L472.23 842.50 M719.87 68.50L719.37 70.50L718.86 72.50L718.36 74.50L717.86 76.50L717.35 78.50L716.85 80.50L716.34 82.50L715.84 84.50L715.34 86.50L714.84 88.50L714.33 90.50L713.83 92.50L713.33 94.50L712.83 96.50L712.33 98.50L711.82 100.50L711.32 102.50L710.82 104.50L710.32 106.50L709.82 108.50L709.32 110.50L708.82 112.50L708.32 114.50L707.82 116.50L707.32 118.50L706.82 120.50L706.32 122.50L705.83 124.50L705.33 126.50L704.83 128.50L704.33 130.50L703.83 132.50L703.34 134.50L702.84 136.50L702.34 138.50L701.84 140.50L701.35 142.50L700.85 144.50L700.36 146.50L699.86 148.50L699.36 150.50L698.87 152.50L698.37 154.50L697.88 156.50L697.38 158.50L696.89 160.50L696.47 162.20 M681.42 223.50L681.18 224.50L680.69 226.50L680.20 228.50L679.72 230.50L679.23 232.50L678.75 234.50L678.26 236.50L677.77 238.50L677.29 240.50L676.80 242.50L676.32 244.50L675.83 246.50L675.35 248.50L674.86 250.50L674.38 252.50L673.89 254.50L673.41 256.50L672.93 258.50L672.44 260.50L671.96 262.50L671.48 264.50L671.00 266.50L670.51 268.50L670.03 270.50L669.55 272.50L669.07 274.50L668.58 276.50L668.10 278.50L667.62 280.50L667.14 282.50L666.66 284.50L666.18 286.50L665.70 288.50L665.22 290.50L664.74 292.50L664.26 294.50L663.78 296.50L663.30 298.50L662.82 300.50L662.35 302.50L661.87 304.50L661.39 306.50L660.91 308.50L660.43 310.50L659.96 312.50L659.48 314.50L659.00 316.50L658.52 318.50L658.05 320.50L657.57 322.50L657.10 324.50L656.62 326.50L656.14 328.50L655.67 330.50L655.19 332.50L654.72 334.50L654.24 336.50L653.77 338.50L653.29 340.50L652.82 342.50L652.35 344.50L651.87 346.50L651.40 348.50L650.93 350.50L650.45 352.50L649.98 354.50L649.51 356.50L649.04 358.50L648.56 360.50L648.09 362.50L647.62 364.50L647.15 366.50L646.68 368.50L646.21 370.50L645.74 372.50L645.27 374.50L644.80 376.50L644.33 378.50L643.86 380.50L643.39 382.50L642.92 384.50L642.45 386.50L641.98 388.50L641.51 390.50L641.04 392.50L640.57 394.50L640.11 396.50L639.64 398.50L639.17 400.50L638.70 402.50L638.24 404.50L637.77 406.50L637.30 408.50L636.84 410.50L636.37 412.50L635.90 414.50L635.44 416.50L634.97 418.50L634.51 420.50L634.04 422.50L633.58 424.50L633.11 426.50L632.65 428.50L632.18 430.50L631.72 432.50L631.26 434.50L630.79 436.50L630.33 438.50L629.87 440.50L629.41 442.50L628.94 444.50L628.48 446.50L628.02 448.50L627.56 450.50L627.09 452.50L626.63 454.50L626.61 454.60 M612.72 515.30L612.44 516.50L611.99 518.50L611.54 520.50L611.08 522.50L610.63 524.50L610.18 526.50L609.72 528.50L609.27 530.50L608.82 532.50L608.37 534.50L607.91 536.50L607.46 538.50L607.01 540.50L606.56 542.50L606.11 544.50L605.66 546.50L605.21 548.50L604.76 550.50L604.31 552.50L603.86 554.50L603.41 556.50L602.96 558.50L602.51 560.50L602.06 562.50L601.61 564.50L601.16 566.50L600.71 568.50L600.27 570.50L599.82 572.50L599.37 574.50L598.92 576.50L598.48 578.50L598.03 580.50L597.58 582.50L597.14 584.50L596.69 586.50L596.24 588.50L595.80 590.50L595.35 592.50L594.91 594.50L594.46 596.50L594.02 598.50L593.57 600.50L593.13 602.50L592.68 604.50L592.24 606.50L591.80 608.50L591.35 610.50L590.91 612.50L590.47 614.50L590.02 616.50L589.58 618.50L589.14 620.50L588.70 622.50L588.25 624.50L587.81 626.50L587.37 628.50L586.93 630.50L586.49 632.50L586.05 634.50L585.61 636.50L585.17 638.50L584.73 640.50L584.29 642.50L583.85 644.50L583.41 646.50L582.97 648.50L582.53 650.50L582.09 652.50L581.65 654.50L581.21 656.50L580.78 658.50L580.34 660.50L579.90 662.50L579.46 664.50L579.03 666.50L578.59 668.50L578.15 670.50L577.72 672.50L577.28 674.50L576.84 676.50L576.41 678.50L575.97 680.50L575.54 682.50L575.10 684.50L574.67 686.50L574.23 688.50L573.80 690.50L573.37 692.50L572.93 694.50L572.50 696.50L572.07 698.50L571.63 700.50L571.20 702.50L570.77 704.50L570.33 706.50L569.90 708.50L569.47 710.50L569.04 712.50L568.61 714.50L568.18 716.50L567.74 718.50L567.31 720.50L566.88 722.50L566.45 724.50L566.02 726.50L565.59 728.50L565.16 730.50L564.73 732.50L564.30 734.50L563.88 736.50L563.45 738.50L563.02 740.50L562.59 742.50L562.16 744.50L561.86 745.90 M548.63 808.30L548.59 808.50L548.17 810.50L547.75 812.50L547.33 814.50L546.91 816.50L546.49 818.50L546.07 820.50L545.65 822.50L545.23 824.50L544.81 826.50L544.39 828.50L543.97 830.50L543.56 832.50L543.14 834.50L542.72 836.50L542.30 838.50L541.89 840.50L541.47 842.50 M789.54 68.50L789.04 70.50L788.53 72.50L788.03 74.50L787.52 76.50L787.02 78.50L786.51 80.50L786.01 82.50L785.50 84.50L785.00 86.50L784.50 88.50L783.99 90.50L783.49 92.50L782.99 94.50L782.48 96.50L781.98 98.50L781.48 100.50L780.98 102.50L780.47 104.50L779.97 106.50L779.47 108.50L778.97 110.50L778.47 112.50L777.97 114.50L777.47 116.50L776.97 118.50L776.47 120.50L775.97 122.50L775.47 124.50L774.97 126.50L774.47 128.50L773.97 130.50L773.47 132.50L772.97 134.50L772.47 136.50L771.97 138.50L771.48 140.50L770.98 142.50L770.48 144.50L769.98 146.50L769.49 148.50L768.99 150.50L768.49 152.50L768.00 154.50L767.50 156.50L767.00 158.50L766.51 160.50L766.09 162.20 M751.01 223.50L750.76 224.50L750.28 226.50L749.79 228.50L749.30 230.50L748.81 232.50L748.33 234.50L747.84 236.50L747.35 238.50L746.86 240.50L746.38 242.50L745.89 244.50L745.41 246.50L744.92 248.50L744.43 250.50L743.95 252.50L743.46 254.50L742.98 256.50L742.49 258.50L742.01 260.50L741.53 262.50L741.04 264.50L740.56 266.50L740.07 268.50L739.59 270.50L739.11 272.50L738.62 274.50L738.14 276.50L737.66 278.50L737.18 280.50L736.69 282.50L736.21 284.50L735.73 286.50L735.25 288.50L734.77 290.50L734.29 292.50L733.81 294.50L733.33 296.50L732.85 298.50L732.37 300.50L731.89 302.50L731.41 304.50L730.93 306.50L730.45 308.50L729.97 310.50L729.49 312.50L729.01 314.50L728.54 316.50L728.06 318.50L727.58 320.50L727.10 322.50L726.63 324.50L726.15 326.50L725.67 328.50L725.19 330.50L724.72 332.50L724.24 334.50L723.77 336.50L723.29 338.50L722.82 340.50L722.34 342.50L721.87 344.50L721.39 346.50L720.92 348.50L720.44 350.50L719.97 352.50L719.49 354.50L719.02 356.50L718.55 358.50L718.07 360.50L717.60 362.50L717.13 364.50L716.66 366.50L716.18 368.50L715.71 370.50L715.24 372.50L714.77 374.50L714.30 376.50L713.83 378.50L713.35 380.50L712.88 382.50L712.41 384.50L711.94 386.50L711.47 388.50L711.00 390.50L710.53 392.50L710.06 394.50L709.60 396.50L709.13 398.50L708.66 400.50L708.19 402.50L707.72 404.50L707.25 406.50L706.79 408.50L706.32 410.50L705.85 412.50L705.38 414.50L704.92 416.50L704.45 418.50L703.98 420.50L703.52 422.50L703.05 424.50L702.59 426.50L702.12 428.50L701.66 430.50L701.19 432.50L700.73 434.50L700.26 436.50L699.80 438.50L699.33 440.50L698.87 442.50L698.41 444.50L697.94 446.50L697.48 448.50L697.02 450.50L696.55 452.50L696.09 454.50L696.07 454.60 M682.14 515.30L681.87 516.50L681.41 518.50L680.96 520.50L680.50 522.50L680.05 524.50L679.59 526.50L679.14 528.50L678.68 530.50L678.23 532.50L677.78 534.50L677.32 536.50L676.87 538.50L676.42 540.50L675.97 542.50L675.51 544.50L675.06 546.50L674.61 548.50L674.16 550.50L673.71 552.50L673.26 554.50L672.81 556.50L672.36 558.50L671.90 560.50L671.45 562.50L671.00 564.50L670.55 566.50L670.11 568.50L669.66 570.50L669.21 572.50L668.76 574.50L668.31 576.50L667.86 578.50L667.41 580.50L666.97 582.50L666.52 584.50L666.07 586.50L665.62 588.50L665.18 590.50L664.73 592.50L664.28 594.50L663.84 596.50L663.39 598.50L662.95 600.50L662.50 602.50L662.05 604.50L661.61 606.50L661.16 608.50L660.72 610.50L660.28 612.50L659.83 614.50L659.39 616.50L658.94 618.50L658.50 620.50L658.06 622.50L657.61 624.50L657.17 626.50L656.73 628.50L656.29 630.50L655.84 632.50L655.40 634.50L654.96 636.50L654.52 638.50L654.08 640.50L653.64 642.50L653.20 644.50L652.76 646.50L652.31 648.50L651.87 650.50L651.43 652.50L651.00 654.50L650.56 656.50L650.12 658.50L649.68 660.50L649.24 662.50L648.80 664.50L648.36 666.50L647.92 668.50L647.49 670.50L647.05 672.50L646.61 674.50L646.17 676.50L645.74 678.50L645.30 680.50L644.87 682.50L644.43 684.50L643.99 686.50L643.56 688.50L643.12 690.50L642.69 692.50L642.25 694.50L641.82 696.50L641.38 698.50L640.95 700.50L640.51 702.50L640.08 704.50L639.65 706.50L639.21 708.50L638.78 710.50L638.35 712.50L637.91 714.50L637.48 716.50L637.05 718.50L636.62 720.50L636.19 722.50L635.75 724.50L635.32 726.50L634.89 728.50L634.46 730.50L634.03 732.50L633.60 734.50L633.17 736.50L632.74 738.50L632.31 740.50L631.88 742.50L631.45 744.50L631.15 745.90 M617.88 808.30L617.84 808.50L617.42 810.50L617.00 812.50L616.58 814.50L616.15 816.50L615.73 818.50L615.31 820.50L614.89 822.50L614.47 824.50L614.05 826.50L613.63 828.50L613.21 830.50L612.80 832.50L612.38 834.50L611.96 836.50L611.54 838.50L611.12 840.50L610.70 842.50 M859.21 68.50L858.71 70.50L858.20 72.50L857.69 74.50L857.19 76.50L856.68 78.50L856.17 80.50L855.67 82.50L855.16 84.50L854.66 86.50L854.15 88.50L853.65 90.50L853.14 92.50L852.64 94.50L852.14 96.50L851.63 98.50L851.13 100.50L850.63 102.50L850.12 104.50L849.62 106.50L849.12 108.50L848.61 110.50L848.11 112.50L847.61 114.50L847.11 116.50L846.61 118.50L846.11 120.50L845.60 122.50L845.10 124.50L844.60 126.50L844.10 128.50L843.60 130.50L843.10 132.50L842.60 134.50L842.10 136.50L841.60 138.50L841.10 140.50L840.61 142.50L840.11 144.50L839.61 146.50L839.11 148.50L838.61 150.50L838.11 152.50L837.62 154.50L837.12 156.50L836.62 158.50L836.13 160.50L835.70 162.20 M820.59 223.50L820.35 224.50L819.86 226.50L819.37 228.50L818.88 230.50L818.39 232.50L817.90 234.50L817.41 236.50L816.93 238.50L816.44 240.50L815.95 242.50L815.46 244.50L814.98 246.50L814.49 248.50L814.00 250.50L813.52 252.50L813.03 254.50L812.54 256.50L812.06 258.50L811.57 260.50L811.09 262.50L810.60 264.50L810.12 266.50L809.63 268.50L809.15 270.50L808.66 272.50L808.18 274.50L807.69 276.50L807.21 278.50L806.73 280.50L806.24 282.50L805.76 284.50L805.28 286.50L804.80 288.50L804.31 290.50L803.83 292.50L803.35 294.50L802.87 296.50L802.39 298.50L801.91 300.50L801.43 302.50L800.95 304.50L800.46 306.50L799.98 308.50L799.50 310.50L799.03 312.50L798.55 314.50L798.07 316.50L797.59 318.50L797.11 320.50L796.63 322.50L796.15 324.50L795.67 326.50L795.20 328.50L794.72 330.50L794.24 332.50L793.76 334.50L793.29 336.50L792.81 338.50L792.33 340.50L791.86 342.50L791.38 344.50L790.90 346.50L790.43 348.50L789.95 350.50L789.48 352.50L789.00 354.50L788.53 356.50L788.05 358.50L787.58 360.50L787.11 362.50L786.63 364.50L786.16 366.50L785.68 368.50L785.21 370.50L784.74 372.50L784.27 374.50L783.79 376.50L783.32 378.50L782.85 380.50L782.38 382.50L781.91 384.50L781.43 386.50L780.96 388.50L780.49 390.50L780.02 392.50L779.55 394.50L779.08 396.50L778.61 398.50L778.14 400.50L777.67 402.50L777.20 404.50L776.73 406.50L776.26 408.50L775.80 410.50L775.33 412.50L774.86 414.50L774.39 416.50L773.92 418.50L773.46 420.50L772.99 422.50L772.52 424.50L772.06 426.50L771.59 428.50L771.12 430.50L770.66 432.50L770.19 434.50L769.72 436.50L769.26 438.50L768.79 440.50L768.33 442.50L767.86 444.50L767.40 446.50L766.94 448.50L766.47 450.50L766.01 452.50L765.54 454.50L765.52 454.60 M751.56 515.30L751.28 516.50L750.83 518.50L750.37 520.50L749.92 522.50L749.46 524.50L749.01 526.50L748.55 528.50L748.09 530.50L747.64 532.50L747.19 534.50L746.73 536.50L746.28 538.50L745.82 540.50L745.37 542.50L744.92 544.50L744.46 546.50L744.01 548.50L743.56 550.50L743.11 552.50L742.65 554.50L742.20 556.50L741.75 558.50L741.30 560.50L740.85 562.50L740.40 564.50L739.94 566.50L739.49 568.50L739.04 570.50L738.59 572.50L738.14 574.50L737.69 576.50L737.24 578.50L736.80 580.50L736.35 582.50L735.90 584.50L735.45 586.50L735.00 588.50L734.55 590.50L734.10 592.50L733.66 594.50L733.21 596.50L732.76 598.50L732.32 600.50L731.87 602.50L731.42 604.50L730.98 606.50L730.53 608.50L730.08 610.50L729.64 612.50L729.19 614.50L728.75 616.50L728.30 618.50L727.86 620.50L727.41 622.50L726.97 624.50L726.53 626.50L726.08 628.50L725.64 630.50L725.20 632.50L724.75 634.50L724.31 636.50L723.87 638.50L723.42 640.50L722.98 642.50L722.54 644.50L722.10 646.50L721.66 648.50L721.22 650.50L720.78 652.50L720.33 654.50L719.89 656.50L719.45 658.50L719.01 660.50L718.57 662.50L718.13 664.50L717.69 666.50L717.26 668.50L716.82 670.50L716.38 672.50L715.94 674.50L715.50 676.50L715.06 678.50L714.63 680.50L714.19 682.50L713.75 684.50L713.31 686.50L712.88 688.50L712.44 690.50L712.00 692.50L711.57 694.50L711.13 696.50L710.70 698.50L710.26 700.50L709.83 702.50L709.39 704.50L708.96 706.50L708.52 708.50L708.09 710.50L707.65 712.50L707.22 714.50L706.79 716.50L706.35 718.50L705.92 720.50L705.49 722.50L705.05 724.50L704.62 726.50L704.19 728.50L703.76 730.50L703.33 732.50L702.89 734.50L702.46 736.50L702.03 738.50L701.60 740.50L701.17 742.50L700.74 744.50L700.44 745.90 M687.13 808.30L687.09 808.50L686.67 810.50L686.24 812.50L685.82 814.50L685.40 816.50L684.98 818.50L684.56 820.50L684.14 822.50L683.71 824.50L683.29 826.50L682.87 828.50L682.45 830.50L682.03 832.50L681.61 834.50L681.19 836.50L680.77 838.50L680.35 840.50L679.93 842.50 M928.88 68.50L928.37 70.50L927.86 72.50L927.35 74.50L926.85 76.50L926.34 78.50L925.83 80.50L925.32 82.50L924.82 84.50L924.31 86.50L923.81 88.50L923.30 90.50L922.79 92.50L922.29 94.50L921.78 96.50L921.28 98.50L920.77 100.50L920.27 102.50L919.77 104.50L919.26 106.50L918.76 108.50L918.26 110.50L917.75 112.50L917.25 114.50L916.75 116.50L916.24 118.50L915.74 120.50L915.24 122.50L914.74 124.50L914.24 126.50L913.73 128.50L913.23 130.50L912.73 132.50L912.23 134.50L911.73 136.50L911.23 138.50L910.73 140.50L910.23 142.50L909.73 144.50L909.23 146.50L908.73 148.50L908.23 150.50L907.73 152.50L907.23 154.50L906.74 156.50L906.24 158.50L905.74 160.50L905.32 162.20 M890.17 223.50L889.92 224.50L889.43 226.50L888.94 228.50L888.45 230.50L887.96 232.50L887.47 234.50L886.98 236.50L886.50 238.50L886.01 240.50L885.52 242.50L885.03 244.50L884.54 246.50L884.05 248.50L883.57 250.50L883.08 252.50L882.59 254.50L882.10 256.50L881.62 258.50L881.13 260.50L880.64 262.50L880.16 264.50L879.67 266.50L879.19 268.50L878.70 270.50L878.21 272.50L877.73 274.50L877.24 276.50L876.76 278.50L876.28 280.50L875.79 282.50L875.31 284.50L874.82 286.50L874.34 288.50L873.86 290.50L873.37 292.50L872.89 294.50L872.41 296.50L871.93 298.50L871.44 300.50L870.96 302.50L870.48 304.50L870.00 306.50L869.52 308.50L869.04 310.50L868.55 312.50L868.07 314.50L867.59 316.50L867.11 318.50L866.63 320.50L866.15 322.50L865.67 324.50L865.20 326.50L864.72 328.50L864.24 330.50L863.76 332.50L863.28 334.50L862.80 336.50L862.32 338.50L861.85 340.50L861.37 342.50L860.89 344.50L860.42 346.50L859.94 348.50L859.46 350.50L858.99 352.50L858.51 354.50L858.03 356.50L857.56 358.50L857.08 360.50L856.61 362.50L856.13 364.50L855.66 366.50L855.18 368.50L854.71 370.50L854.23 372.50L853.76 374.50L853.29 376.50L852.81 378.50L852.34 380.50L851.87 382.50L851.40 384.50L850.92 386.50L850.45 388.50L849.98 390.50L849.51 392.50L849.04 394.50L848.56 396.50L848.09 398.50L847.62 400.50L847.15 402.50L846.68 404.50L846.21 406.50L845.74 408.50L845.27 410.50L844.80 412.50L844.33 414.50L843.86 416.50L843.39 418.50L842.93 420.50L842.46 422.50L841.99 424.50L841.52 426.50L841.05 428.50L840.59 430.50L840.12 432.50L839.65 434.50L839.18 436.50L838.72 438.50L838.25 440.50L837.79 442.50L837.32 444.50L836.85 446.50L836.39 448.50L835.92 450.50L835.46 452.50L834.99 454.50L834.97 454.60 M820.97 515.30L820.70 516.50L820.24 518.50L819.78 520.50L819.33 522.50L818.87 524.50L818.41 526.50L817.96 528.50L817.50 530.50L817.05 532.50L816.59 534.50L816.13 536.50L815.68 538.50L815.22 540.50L814.77 542.50L814.32 544.50L813.86 546.50L813.41 548.50L812.95 550.50L812.50 552.50L812.05 554.50L811.59 556.50L811.14 558.50L810.69 560.50L810.24 562.50L809.78 564.50L809.33 566.50L808.88 568.50L808.43 570.50L807.98 572.50L807.53 574.50L807.07 576.50L806.62 578.50L806.17 580.50L805.72 582.50L805.27 584.50L804.82 586.50L804.37 588.50L803.93 590.50L803.48 592.50L803.03 594.50L802.58 596.50L802.13 598.50L801.68 600.50L801.23 602.50L800.79 604.50L800.34 606.50L799.89 608.50L799.45 610.50L799.00 612.50L798.55 614.50L798.11 616.50L797.66 618.50L797.21 620.50L796.77 622.50L796.32 624.50L795.88 626.50L795.43 628.50L794.99 630.50L794.54 632.50L794.10 634.50L793.66 636.50L793.21 638.50L792.77 640.50L792.33 642.50L791.88 644.50L791.44 646.50L791.00 648.50L790.55 650.50L790.11 652.50L789.67 654.50L789.23 656.50L788.79 658.50L788.35 660.50L787.91 662.50L787.46 664.50L787.02 666.50L786.58 668.50L786.14 670.50L785.70 672.50L785.26 674.50L784.82 676.50L784.39 678.50L783.95 680.50L783.51 682.50L783.07 684.50L782.63 686.50L782.19 688.50L781.76 690.50L781.32 692.50L780.88 694.50L780.44 696.50L780.01 698.50L779.57 700.50L779.13 702.50L778.70 704.50L778.26 706.50L777.83 708.50L777.39 710.50L776.96 712.50L776.52 714.50L776.09 716.50L775.65 718.50L775.22 720.50L774.78 722.50L774.35 724.50L773.92 726.50L773.48 728.50L773.05 730.50L772.62 732.50L772.18 734.50L771.75 736.50L771.32 738.50L770.89 740.50L770.45 742.50L770.02 744.50L769.72 745.90 M756.38 808.30L756.34 808.50L755.91 810.50L755.49 812.50L755.07 814.50L754.64 816.50L754.22 818.50L753.80 820.50L753.37 822.50L752.95 824.50L752.53 826.50L752.11 828.50L751.69 830.50L751.26 832.50L750.84 834.50L750.42 836.50L750.00 838.50L749.58 840.50L749.16 842.50 M998.54 68.50L998.03 70.50L997.52 72.50L997.01 74.50L996.50 76.50L995.99 78.50L995.49 80.50L994.98 82.50L994.47 84.50L993.96 86.50L993.46 88.50L992.95 90.50L992.44 92.50L991.94 94.50L991.43 96.50L990.92 98.50L990.42 100.50L989.91 102.50L989.41 104.50L988.90 106.50L988.40 108.50L987.89 110.50L987.39 112.50L986.88 114.50L986.38 116.50L985.88 118.50L985.37 120.50L984.87 122.50L984.37 124.50L983.86 126.50L983.36 128.50L982.86 130.50L982.36 132.50L981.85 134.50L981.35 136.50L980.85 138.50L980.35 140.50L979.85 142.50L979.35 144.50L978.85 146.50L978.35 148.50L977.85 150.50L977.35 152.50L976.85 154.50L976.35 156.50L975.85 158.50L975.35 160.50L974.93 162.20 M959.75 223.50L959.50 224.50L959.01 226.50L958.52 228.50L958.03 230.50L957.53 232.50L957.04 234.50L956.55 236.50L956.06 238.50L955.57 240.50L955.08 242.50L954.59 244.50L954.10 246.50L953.61 248.50L953.13 250.50L952.64 252.50L952.15 254.50L951.66 256.50L951.17 258.50L950.68 260.50L950.20 262.50L949.71 264.50L949.22 266.50L948.74 268.50L948.25 270.50L947.76 272.50L947.28 274.50L946.79 276.50L946.30 278.50L945.82 280.50L945.33 282.50L944.85 284.50L944.36 286.50L943.88 288.50L943.39 290.50L942.91 292.50L942.43 294.50L941.94 296.50L941.46 298.50L940.98 300.50L940.49 302.50L940.01 304.50L939.53 306.50L939.04 308.50L938.56 310.50L938.08 312.50L937.60 314.50L937.12 316.50L936.64 318.50L936.16 320.50L935.67 322.50L935.19 324.50L934.71 326.50L934.23 328.50L933.75 330.50L933.27 332.50L932.79 334.50L932.31 336.50L931.84 338.50L931.36 340.50L930.88 342.50L930.40 344.50L929.92 346.50L929.44 348.50L928.97 350.50L928.49 352.50L928.01 354.50L927.53 356.50L927.06 358.50L926.58 360.50L926.11 362.50L925.63 364.50L925.15 366.50L924.68 368.50L924.20 370.50L923.73 372.50L923.25 374.50L922.78 376.50L922.30 378.50L921.83 380.50L921.35 382.50L920.88 384.50L920.41 386.50L919.93 388.50L919.46 390.50L918.99 392.50L918.52 394.50L918.04 396.50L917.57 398.50L917.10 400.50L916.63 402.50L916.16 404.50L915.68 406.50L915.21 408.50L914.74 410.50L914.27 412.50L913.80 414.50L913.33 416.50L912.86 418.50L912.39 420.50L911.92 422.50L911.45 424.50L910.98 426.50L910.51 428.50L910.05 430.50L909.58 432.50L909.11 434.50L908.64 436.50L908.17 438.50L907.71 440.50L907.24 442.50L906.77 444.50L906.30 446.50L905.84 448.50L905.37 450.50L904.91 452.50L904.44 454.50L904.42 454.60 M890.39 515.30L890.11 516.50L889.65 518.50L889.19 520.50L888.74 522.50L888.28 524.50L887.82 526.50L887.36 528.50L886.91 530.50L886.45 532.50L885.99 534.50L885.53 536.50L885.08 538.50L884.62 540.50L884.17 542.50L883.71 544.50L883.26 546.50L882.80 548.50L882.35 550.50L881.89 552.50L881.44 554.50L880.98 556.50L880.53 558.50L880.07 560.50L879.62 562.50L879.17 564.50L878.71 566.50L878.26 568.50L877.81 570.50L877.36 572.50L876.90 574.50L876.45 576.50L876.00 578.50L875.55 580.50L875.10 582.50L874.65 584.50L874.20 586.50L873.74 588.50L873.29 590.50L872.84 592.50L872.39 594.50L871.94 596.50L871.50 598.50L871.05 600.50L870.60 602.50L870.15 604.50L869.70 606.50L869.25 608.50L868.80 610.50L868.36 612.50L867.91 614.50L867.46 616.50L867.01 618.50L866.57 620.50L866.12 622.50L865.67 624.50L865.23 626.50L864.78 628.50L864.33 630.50L863.89 632.50L863.44 634.50L863.00 636.50L862.55 638.50L862.11 640.50L861.66 642.50L861.22 644.50L860.78 646.50L860.33 648.50L859.89 650.50L859.45 652.50L859.00 654.50L858.56 656.50L858.12 658.50L857.68 660.50L857.23 662.50L856.79 664.50L856.35 666.50L855.91 668.50L855.47 670.50L855.03 672.50L854.59 674.50L854.14 676.50L853.70 678.50L853.26 680.50L852.82 682.50L852.39 684.50L851.95 686.50L851.51 688.50L851.07 690.50L850.63 692.50L850.19 694.50L849.75 696.50L849.31 698.50L848.88 700.50L848.44 702.50L848.00 704.50L847.56 706.50L847.13 708.50L846.69 710.50L846.25 712.50L845.82 714.50L845.38 716.50L844.95 718.50L844.51 720.50L844.08 722.50L843.64 724.50L843.21 726.50L842.77 728.50L842.34 730.50L841.90 732.50L841.47 734.50L841.04 736.50L840.60 738.50L840.17 740.50L839.74 742.50L839.30 744.50L839.00 745.90 M825.62 808.30L825.58 808.50L825.15 810.50L824.73 812.50L824.31 814.50L823.88 816.50L823.46 818.50L823.03 820.50L822.61 822.50L822.19 824.50L821.76 826.50L821.34 828.50L820.92 830.50L820.49 832.50L820.07 834.50L819.65 836.50L819.23 838.50L818.81 840.50L818.38 842.50 M1068.19 68.50L1067.68 70.50L1067.17 72.50L1066.66 74.50L1066.15 76.50L1065.64 78.50L1065.14 80.50L1064.63 82.50L1064.12 84.50L1063.61 86.50L1063.10 88.50L1062.59 90.50L1062.09 92.50L1061.58 94.50L1061.07 96.50L1060.56 98.50L1060.06 100.50L1059.55 102.50L1059.04 104.50L1058.54 106.50L1058.03 108.50L1057.53 110.50L1057.02 112.50L1056.52 114.50L1056.01 116.50L1055.51 118.50L1055.00 120.50L1054.50 122.50L1053.99 124.50L1053.49 126.50L1052.99 128.50L1052.48 130.50L1051.98 132.50L1051.48 134.50L1050.97 136.50L1050.47 138.50L1049.97 140.50L1049.47 142.50L1048.96 144.50L1048.46 146.50L1047.96 148.50L1047.46 150.50L1046.96 152.50L1046.46 154.50L1045.96 156.50L1045.46 158.50L1044.96 160.50L1044.53 162.20 M1029.32 223.50L1029.07 224.50L1028.58 226.50L1028.09 228.50L1027.59 230.50L1027.10 232.50L1026.61 234.50L1026.12 236.50L1025.63 238.50L1025.14 240.50L1024.64 242.50L1024.15 244.50L1023.66 246.50L1023.17 248.50L1022.68 250.50L1022.19 252.50L1021.70 254.50L1021.21 256.50L1020.72 258.50L1020.24 260.50L1019.75 262.50L1019.26 264.50L1018.77 266.50L1018.28 268.50L1017.79 270.50L1017.31 272.50L1016.82 274.50L1016.33 276.50L1015.85 278.50L1015.36 280.50L1014.87 282.50L1014.39 284.50L1013.90 286.50L1013.41 288.50L1012.93 290.50L1012.44 292.50L1011.96 294.50L1011.47 296.50L1010.99 298.50L1010.50 300.50L1010.02 302.50L1009.54 304.50L1009.05 306.50L1008.57 308.50L1008.09 310.50L1007.60 312.50L1007.12 314.50L1006.64 316.50L1006.16 318.50L1005.67 320.50L1005.19 322.50L1004.71 324.50L1004.23 326.50L1003.75 328.50L1003.27 330.50L1002.78 332.50L1002.30 334.50L1001.82 336.50L1001.34 338.50L1000.86 340.50L1000.38 342.50L999.90 344.50L999.43 346.50L998.95 348.50L998.47 350.50L997.99 352.50L997.51 354.50L997.03 356.50L996.55 358.50L996.08 360.50L995.60 362.50L995.12 364.50L994.65 366.50L994.17 368.50L993.69 370.50L993.22 372.50L992.74 374.50L992.26 376.50L991.79 378.50L991.31 380.50L990.84 382.50L990.36 384.50L989.89 386.50L989.41 388.50L988.94 390.50L988.47 392.50L987.99 394.50L987.52 396.50L987.04 398.50L986.57 400.50L986.10 402.50L985.63 404.50L985.15 406.50L984.68 408.50L984.21 410.50L983.74 412.50L983.27 414.50L982.79 416.50L982.32 418.50L981.85 420.50L981.38 422.50L980.91 424.50L980.44 426.50L979.97 428.50L979.50 430.50L979.03 432.50L978.56 434.50L978.09 436.50L977.63 438.50L977.16 440.50L976.69 442.50L976.22 444.50L975.75 446.50L975.28 448.50L974.82 450.50L974.35 452.50L973.88 454.50L973.86 454.60 M959.79 515.30L959.52 516.50L959.06 518.50L958.60 520.50L958.14 522.50L957.68 524.50L957.22 526.50L956.76 528.50L956.31 530.50L955.85 532.50L955.39 534.50L954.93 536.50L954.47 538.50L954.02 540.50L953.56 542.50L953.10 544.50L952.65 546.50L952.19 548.50L951.73 550.50L951.28 552.50L950.82 554.50L950.37 556.50L949.91 558.50L949.46 560.50L949.00 562.50L948.55 564.50L948.09 566.50L947.64 568.50L947.19 570.50L946.73 572.50L946.28 574.50L945.83 576.50L945.37 578.50L944.92 580.50L944.47 582.50L944.02 584.50L943.56 586.50L943.11 588.50L942.66 590.50L942.21 592.50L941.76 594.50L941.31 596.50L940.86 598.50L940.41 600.50L939.96 602.50L939.51 604.50L939.06 606.50L938.61 608.50L938.16 610.50L937.71 612.50L937.26 614.50L936.81 616.50L936.36 618.50L935.91 620.50L935.47 622.50L935.02 624.50L934.57 626.50L934.12 628.50L933.68 630.50L933.23 632.50L932.78 634.50L932.34 636.50L931.89 638.50L931.45 640.50L931.00 642.50L930.56 644.50L930.11 646.50L929.67 648.50L929.22 650.50L928.78 652.50L928.33 654.50L927.89 656.50L927.44 658.50L927.00 660.50L926.56 662.50L926.11 664.50L925.67 666.50L925.23 668.50L924.79 670.50L924.34 672.50L923.90 674.50L923.46 676.50L923.02 678.50L922.58 680.50L922.14 682.50L921.70 684.50L921.26 686.50L920.82 688.50L920.38 690.50L919.94 692.50L919.50 694.50L919.06 696.50L918.62 698.50L918.18 700.50L917.74 702.50L917.30 704.50L916.86 706.50L916.43 708.50L915.99 710.50L915.55 712.50L915.11 714.50L914.68 716.50L914.24 718.50L913.80 720.50L913.37 722.50L912.93 724.50L912.49 726.50L912.06 728.50L911.62 730.50L911.19 732.50L910.75 734.50L910.32 736.50L909.88 738.50L909.45 740.50L909.02 742.50L908.58 744.50L908.28 745.90 M894.86 808.30L894.82 808.50L894.39 810.50L893.97 812.50L893.54 814.50L893.12 816.50L892.69 818.50L892.27 820.50L891.84 822.50L891.42 824.50L890.99 826.50L890.57 828.50L890.14 830.50L889.72 832.50L889.30 834.50L888.87 836.50L888.45 838.50L888.03 840.50L887.61 842.50 M1137.85 68.50L1137.33 70.50L1136.82 72.50L1136.31 74.50L1135.80 76.50L1135.29 78.50L1134.78 80.50L1134.27 82.50L1133.76 84.50L1133.25 86.50L1132.74 88.50L1132.23 90.50L1131.73 92.50L1131.22 94.50L1130.71 96.50L1130.20 98.50L1129.69 100.50L1129.18 102.50L1128.68 104.50L1128.17 106.50L1127.66 108.50L1127.16 110.50L1126.65 112.50L1126.14 114.50L1125.64 116.50L1125.13 118.50L1124.63 120.50L1124.12 122.50L1123.62 124.50L1123.11 126.50L1122.61 128.50L1122.10 130.50L1121.60 132.50L1121.09 134.50L1120.59 136.50L1120.08 138.50L1119.58 140.50L1119.08 142.50L1118.58 144.50L1118.07 146.50L1117.57 148.50L1117.07 150.50L1116.57 152.50L1116.06 154.50L1115.56 156.50L1115.06 158.50L1114.56 160.50L1114.06 162.50L1113.56 164.50L1113.06 166.50L1112.56 168.50L1112.06 170.50L1111.56 172.50L1111.06 174.50L1110.56 176.50L1110.06 178.50L1109.56 180.50L1109.06 182.50L1108.56 184.50L1108.29 185.60 M1099.01 223.00L1098.64 224.50L1098.14 226.50L1097.65 228.50L1097.16 230.50L1096.66 232.50L1096.17 234.50L1095.68 236.50L1095.19 238.50L1094.69 240.50L1094.20 242.50L1093.71 244.50L1093.22 246.50L1092.73 248.50L1092.24 250.50L1091.75 252.50L1091.25 254.50L1090.76 256.50L1090.27 258.50L1089.78 260.50L1089.29 262.50L1088.80 264.50L1088.31 266.50L1087.83 268.50L1087.34 270.50L1086.85 272.50L1086.36 274.50L1085.87 276.50L1085.38 278.50L1084.90 280.50L1084.41 282.50L1083.92 284.50L1083.43 286.50L1082.95 288.50L1082.46 290.50L1081.97 292.50L1081.49 294.50L1081.00 296.50L1080.52 298.50L1080.03 300.50L1079.55 302.50L1079.06 304.50L1078.58 306.50L1078.09 308.50L1077.61 310.50L1077.12 312.50L1076.64 314.50L1076.15 316.50L1075.67 318.50L1075.19 320.50L1074.70 322.50L1074.22 324.50L1073.74 326.50L1073.26 328.50L1072.77 330.50L1072.29 332.50L1071.81 334.50L1071.33 336.50L1070.85 338.50L1070.37 340.50L1069.89 342.50L1069.41 344.50L1068.93 346.50L1068.45 348.50L1067.97 350.50L1067.49 352.50L1067.01 354.50L1066.53 356.50L1066.05 358.50L1065.57 360.50L1065.09 362.50L1064.61 364.50L1064.13 366.50L1063.66 368.50L1063.18 370.50L1062.70 372.50L1062.22 374.50L1061.75 376.50L1061.27 378.50L1060.79 380.50L1060.32 382.50L1059.84 384.50L1059.37 386.50L1058.89 388.50L1058.42 390.50L1057.94 392.50L1057.47 394.50L1056.99 396.50L1056.52 398.50L1056.04 400.50L1055.57 402.50L1055.09 404.50L1054.62 406.50L1054.15 408.50L1053.67 410.50L1053.20 412.50L1052.73 414.50L1052.26 416.50L1051.78 418.50L1051.31 420.50L1050.84 422.50L1050.37 424.50L1049.90 426.50L1049.43 428.50L1048.96 430.50L1048.48 432.50L1048.01 434.50L1047.54 436.50L1047.07 438.50L1046.60 440.50L1046.13 442.50L1045.67 444.50L1045.20 446.50L1044.73 448.50L1044.26 450.50L1043.79 452.50L1043.32 454.50L1042.85 456.50L1042.39 458.50L1041.92 460.50L1041.45 462.50L1040.99 464.50L1040.52 466.50L1040.05 468.50L1039.59 470.50L1039.12 472.50L1038.65 474.50L1038.19 476.50L1038.03 477.20 M1029.41 514.40L1029.38 514.50L1028.92 516.50L1028.46 518.50L1028.00 520.50L1027.54 522.50L1027.08 524.50L1026.62 526.50L1026.16 528.50L1025.70 530.50L1025.24 532.50L1024.78 534.50L1024.32 536.50L1023.87 538.50L1023.41 540.50L1022.95 542.50L1022.49 544.50L1022.03 546.50L1021.58 548.50L1021.12 550.50L1020.66 552.50L1020.21 554.50L1019.75 556.50L1019.29 558.50L1018.84 560.50L1018.38 562.50L1017.92 564.50L1017.47 566.50L1017.01 568.50L1016.56 570.50L1016.10 572.50L1015.65 574.50L1015.20 576.50L1014.74 578.50L1014.29 580.50L1013.83 582.50L1013.38 584.50L1012.93 586.50L1012.48 588.50L1012.02 590.50L1011.57 592.50L1011.12 594.50L1010.67 596.50L1010.21 598.50L1009.76 600.50L1009.31 602.50L1008.86 604.50L1008.41 606.50L1007.96 608.50L1007.51 610.50L1007.06 612.50L1006.61 614.50L1006.16 616.50L1005.71 618.50L1005.26 620.50L1004.81 622.50L1004.36 624.50L1003.91 626.50L1003.47 628.50L1003.02 630.50L1002.57 632.50L1002.12 634.50L1001.67 636.50L1001.23 638.50L1000.78 640.50L1000.33 642.50L999.89 644.50L999.44 646.50L998.99 648.50L998.55 650.50L998.10 652.50L997.66 654.50L997.21 656.50L996.77 658.50L996.32 660.50L995.88 662.50L995.43 664.50L994.99 666.50L994.55 668.50L994.10 670.50L993.66 672.50L993.22 674.50L992.77 676.50L992.33 678.50L991.89 680.50L991.45 682.50L991.01 684.50L990.56 686.50L990.12 688.50L989.68 690.50L989.24 692.50L988.80 694.50L988.36 696.50L987.92 698.50L987.48 700.50L987.04 702.50L986.60 704.50L986.16 706.50L985.72 708.50L985.28 710.50L984.84 712.50L984.40 714.50L983.97 716.50L983.53 718.50L983.09 720.50L982.65 722.50L982.22 724.50L981.78 726.50L981.34 728.50L980.91 730.50L980.47 732.50L980.03 734.50L979.60 736.50L979.16 738.50L978.73 740.50L978.29 742.50L977.86 744.50L977.42 746.50L976.99 748.50L976.55 750.50L976.12 752.50L975.68 754.50L975.25 756.50L974.82 758.50L974.38 760.50L973.95 762.50L973.52 764.50L973.09 766.50L972.65 768.50L972.37 769.80 M964.18 807.90L964.06 808.50L963.63 810.50L963.20 812.50L962.78 814.50L962.35 816.50L961.92 818.50L961.50 820.50L961.07 822.50L960.64 824.50L960.22 826.50L959.79 828.50L959.37 830.50L958.94 832.50L958.52 834.50L958.09 836.50L957.67 838.50L957.25 840.50L956.82 842.50 M1207.50 68.50L1206.98 70.50L1206.47 72.50L1205.96 74.50L1205.45 76.50L1204.94 78.50L1204.42 80.50L1203.91 82.50L1203.40 84.50L1202.89 86.50L1202.38 88.50L1201.87 90.50L1201.36 92.50L1200.85 94.50L1200.34 96.50L1199.83 98.50L1199.32 100.50L1198.82 102.50L1198.31 104.50L1197.80 106.50L1197.29 108.50L1196.78 110.50L1196.28 112.50L1195.77 114.50L1195.26 116.50L1194.75 118.50L1194.25 120.50L1193.74 122.50L1193.23 124.50L1192.73 126.50L1192.22 128.50L1191.72 130.50L1191.21 132.50L1190.71 134.50L1190.20 136.50L1189.70 138.50L1189.19 140.50L1188.69 142.50L1188.18 144.50L1187.68 146.50L1187.18 148.50L1186.67 150.50L1186.17 152.50L1185.67 154.50L1185.16 156.50L1184.66 158.50L1184.16 160.50L1183.73 162.20 M1168.45 223.50L1168.20 224.50L1167.71 226.50L1167.21 228.50L1166.72 230.50L1166.22 232.50L1165.73 234.50L1165.24 236.50L1164.74 238.50L1164.25 240.50L1163.76 242.50L1163.26 244.50L1162.77 246.50L1162.28 248.50L1161.79 250.50L1161.29 252.50L1160.80 254.50L1160.31 256.50L1159.82 258.50L1159.33 260.50L1158.84 262.50L1158.35 264.50L1157.86 266.50L1157.37 268.50L1156.88 270.50L1156.39 272.50L1155.90 274.50L1155.41 276.50L1154.92 278.50L1154.43 280.50L1153.94 282.50L1153.45 284.50L1152.96 286.50L1152.48 288.50L1151.99 290.50L1151.50 292.50L1151.01 294.50L1150.53 296.50L1150.04 298.50L1149.55 300.50L1149.07 302.50L1148.58 304.50L1148.09 306.50L1147.61 308.50L1147.12 310.50L1146.64 312.50L1146.15 314.50L1145.67 316.50L1145.18 318.50L1144.70 320.50L1144.21 322.50L1143.73 324.50L1143.25 326.50L1142.76 328.50L1142.28 330.50L1141.80 332.50L1141.31 334.50L1140.83 336.50L1140.35 338.50L1139.87 340.50L1139.39 342.50L1138.90 344.50L1138.42 346.50L1137.94 348.50L1137.46 350.50L1136.98 352.50L1136.50 354.50L1136.02 356.50L1135.54 358.50L1135.06 360.50L1134.58 362.50L1134.10 364.50L1133.62 366.50L1133.14 368.50L1132.66 370.50L1132.18 372.50L1131.71 374.50L1131.23 376.50L1130.75 378.50L1130.27 380.50L1129.79 382.50L1129.32 384.50L1128.84 386.50L1128.36 388.50L1127.89 390.50L1127.41 392.50L1126.93 394.50L1126.46 396.50L1125.98 398.50L1125.51 400.50L1125.03 402.50L1124.56 404.50L1124.08 406.50L1123.61 408.50L1123.13 410.50L1122.66 412.50L1122.19 414.50L1121.71 416.50L1121.24 418.50L1120.77 420.50L1120.29 422.50L1119.82 424.50L1119.35 426.50L1118.88 428.50L1118.40 430.50L1117.93 432.50L1117.46 434.50L1116.99 436.50L1116.52 438.50L1116.05 440.50L1115.58 442.50L1115.11 444.50L1114.64 446.50L1114.17 448.50L1113.70 450.50L1113.23 452.50L1112.76 454.50L1112.73 454.60 M1098.60 515.30L1098.32 516.50L1097.86 518.50L1097.40 520.50L1096.94 522.50L1096.48 524.50L1096.02 526.50L1095.56 528.50L1095.09 530.50L1094.63 532.50L1094.17 534.50L1093.71 536.50L1093.25 538.50L1092.79 540.50L1092.34 542.50L1091.88 544.50L1091.42 546.50L1090.96 548.50L1090.50 550.50L1090.04 552.50L1089.58 554.50L1089.13 556.50L1088.67 558.50L1088.21 560.50L1087.76 562.50L1087.30 564.50L1086.84 566.50L1086.39 568.50L1085.93 570.50L1085.47 572.50L1085.02 574.50L1084.56 576.50L1084.11 578.50L1083.65 580.50L1083.20 582.50L1082.74 584.50L1082.29 586.50L1081.84 588.50L1081.38 590.50L1080.93 592.50L1080.47 594.50L1080.02 596.50L1079.57 598.50L1079.12 600.50L1078.66 602.50L1078.21 604.50L1077.76 606.50L1077.31 608.50L1076.86 610.50L1076.40 612.50L1075.95 614.50L1075.50 616.50L1075.05 618.50L1074.60 620.50L1074.15 622.50L1073.70 624.50L1073.25 626.50L1072.80 628.50L1072.35 630.50L1071.90 632.50L1071.46 634.50L1071.01 636.50L1070.56 638.50L1070.11 640.50L1069.66 642.50L1069.22 644.50L1068.77 646.50L1068.32 648.50L1067.87 650.50L1067.43 652.50L1066.98 654.50L1066.53 656.50L1066.09 658.50L1065.64 660.50L1065.20 662.50L1064.75 664.50L1064.31 666.50L1063.86 668.50L1063.42 670.50L1062.97 672.50L1062.53 674.50L1062.08 676.50L1061.64 678.50L1061.20 680.50L1060.75 682.50L1060.31 684.50L1059.87 686.50L1059.43 688.50L1058.98 690.50L1058.54 692.50L1058.10 694.50L1057.66 696.50L1057.22 698.50L1056.77 700.50L1056.33 702.50L1055.89 704.50L1055.45 706.50L1055.01 708.50L1054.57 710.50L1054.13 712.50L1053.69 714.50L1053.25 716.50L1052.81 718.50L1052.37 720.50L1051.94 722.50L1051.50 724.50L1051.06 726.50L1050.62 728.50L1050.18 730.50L1049.75 732.50L1049.31 734.50L1048.87 736.50L1048.43 738.50L1048.00 740.50L1047.56 742.50L1047.13 744.50L1046.71 746.40 M1033.44 807.80L1033.29 808.50L1032.86 810.50L1032.43 812.50L1032.00 814.50L1031.58 816.50L1031.15 818.50L1030.72 820.50L1030.29 822.50L1029.87 824.50L1029.44 826.50L1029.01 828.50L1028.59 830.50L1028.16 832.50L1027.74 834.50L1027.31 836.50L1026.89 838.50L1026.46 840.50L1026.04 842.50 M1277.14 68.50L1276.63 70.50L1276.11 72.50L1275.60 74.50L1275.09 76.50L1274.58 78.50L1274.06 80.50L1273.55 82.50L1273.04 84.50L1272.53 86.50L1272.02 88.50L1271.51 90.50L1270.99 92.50L1270.48 94.50L1269.97 96.50L1269.46 98.50L1268.95 100.50L1268.44 102.50L1267.93 104.50L1267.42 106.50L1266.91 108.50L1266.41 110.50L1265.90 112.50L1265.39 114.50L1264.88 116.50L1264.37 118.50L1263.86 120.50L1263.36 122.50L1262.85 124.50L1262.34 126.50L1261.83 128.50L1261.33 130.50L1260.82 132.50L1260.32 134.50L1259.81 136.50L1259.30 138.50L1258.80 140.50L1258.29 142.50L1257.79 144.50L1257.28 146.50L1256.78 148.50L1256.27 150.50L1255.77 152.50L1255.26 154.50L1254.76 156.50L1254.26 158.50L1253.75 160.50L1253.33 162.20 M1238.01 223.50L1237.76 224.50L1237.27 226.50L1236.77 228.50L1236.28 230.50L1235.78 232.50L1235.28 234.50L1234.79 236.50L1234.30 238.50L1233.80 240.50L1233.31 242.50L1232.81 244.50L1232.32 246.50L1231.83 248.50L1231.33 250.50L1230.84 252.50L1230.35 254.50L1229.85 256.50L1229.36 258.50L1228.87 260.50L1228.38 262.50L1227.88 264.50L1227.39 266.50L1226.90 268.50L1226.41 270.50L1225.92 272.50L1225.43 274.50L1224.94 276.50L1224.45 278.50L1223.96 280.50L1223.47 282.50L1222.98 284.50L1222.49 286.50L1222.00 288.50L1221.51 290.50L1221.02 292.50L1220.53 294.50L1220.05 296.50L1219.56 298.50L1219.07 300.50L1218.58 302.50L1218.10 304.50L1217.61 306.50L1217.12 308.50L1216.64 310.50L1216.15 312.50L1215.66 314.50L1215.18 316.50L1214.69 318.50L1214.21 320.50L1213.72 322.50L1213.24 324.50L1212.75 326.50L1212.27 328.50L1211.78 330.50L1211.30 332.50L1210.81 334.50L1210.33 336.50L1209.85 338.50L1209.36 340.50L1208.88 342.50L1208.40 344.50L1207.91 346.50L1207.43 348.50L1206.95 350.50L1206.47 352.50L1205.99 354.50L1205.51 356.50L1205.02 358.50L1204.54 360.50L1204.06 362.50L1203.58 364.50L1203.10 366.50L1202.62 368.50L1202.14 370.50L1201.66 372.50L1201.18 374.50L1200.70 376.50L1200.22 378.50L1199.75 380.50L1199.27 382.50L1198.79 384.50L1198.31 386.50L1197.83 388.50L1197.36 390.50L1196.88 392.50L1196.40 394.50L1195.92 396.50L1195.45 398.50L1194.97 400.50L1194.49 402.50L1194.02 404.50L1193.54 406.50L1193.07 408.50L1192.59 410.50L1192.12 412.50L1191.64 414.50L1191.17 416.50L1190.69 418.50L1190.22 420.50L1189.74 422.50L1189.27 424.50L1188.80 426.50L1188.32 428.50L1187.85 430.50L1187.38 432.50L1186.90 434.50L1186.43 436.50L1185.96 438.50L1185.49 440.50L1185.02 442.50L1184.55 444.50L1184.07 446.50L1183.60 448.50L1183.13 450.50L1182.66 452.50L1182.19 454.50L1182.17 454.60 M1168.00 515.30L1167.72 516.50L1167.26 518.50L1166.80 520.50L1166.33 522.50L1165.87 524.50L1165.41 526.50L1164.95 528.50L1164.48 530.50L1164.02 532.50L1163.56 534.50L1163.10 536.50L1162.64 538.50L1162.18 540.50L1161.72 542.50L1161.26 544.50L1160.80 546.50L1160.34 548.50L1159.88 550.50L1159.42 552.50L1158.96 554.50L1158.50 556.50L1158.04 558.50L1157.58 560.50L1157.13 562.50L1156.67 564.50L1156.21 566.50L1155.75 568.50L1155.30 570.50L1154.84 572.50L1154.38 574.50L1153.93 576.50L1153.47 578.50L1153.01 580.50L1152.56 582.50L1152.10 584.50L1151.65 586.50L1151.19 588.50L1150.74 590.50L1150.28 592.50L1149.83 594.50L1149.37 596.50L1148.92 598.50L1148.47 600.50L1148.01 602.50L1147.56 604.50L1147.11 606.50L1146.65 608.50L1146.20 610.50L1145.75 612.50L1145.30 614.50L1144.84 616.50L1144.39 618.50L1143.94 620.50L1143.49 622.50L1143.04 624.50L1142.59 626.50L1142.14 628.50L1141.69 630.50L1141.24 632.50L1140.79 634.50L1140.34 636.50L1139.89 638.50L1139.44 640.50L1138.99 642.50L1138.54 644.50L1138.09 646.50L1137.64 648.50L1137.19 650.50L1136.75 652.50L1136.30 654.50L1135.85 656.50L1135.40 658.50L1134.96 660.50L1134.51 662.50L1134.06 664.50L1133.62 666.50L1133.17 668.50L1132.73 670.50L1132.28 672.50L1131.84 674.50L1131.39 676.50L1130.95 678.50L1130.50 680.50L1130.06 682.50L1129.61 684.50L1129.17 686.50L1128.72 688.50L1128.28 690.50L1127.84 692.50L1127.39 694.50L1126.95 696.50L1126.51 698.50L1126.07 700.50L1125.62 702.50L1125.18 704.50L1124.74 706.50L1124.30 708.50L1123.86 710.50L1123.42 712.50L1122.98 714.50L1122.54 716.50L1122.10 718.50L1121.66 720.50L1121.22 722.50L1120.78 724.50L1120.34 726.50L1119.90 728.50L1119.46 730.50L1119.02 732.50L1118.58 734.50L1118.14 736.50L1117.71 738.50L1117.27 740.50L1116.83 742.50L1116.39 744.50L1115.98 746.40 M1102.67 807.80L1102.52 808.50L1102.09 810.50L1101.66 812.50L1101.23 814.50L1100.80 816.50L1100.37 818.50L1099.95 820.50L1099.52 822.50L1099.09 824.50L1098.66 826.50L1098.23 828.50L1097.81 830.50L1097.38 832.50L1096.95 834.50L1096.52 836.50L1096.10 838.50L1095.67 840.50L1095.25 842.50 M1346.78 68.50L1346.27 70.50L1345.75 72.50L1345.24 74.50L1344.73 76.50L1344.21 78.50L1343.70 80.50L1343.19 82.50L1342.67 84.50L1342.16 86.50L1341.65 88.50L1341.14 90.50L1340.62 92.50L1340.11 94.50L1339.60 96.50L1339.09 98.50L1338.58 100.50L1338.07 102.50L1337.56 104.50L1337.05 106.50L1336.53 108.50L1336.02 110.50L1335.51 112.50L1335.01 114.50L1334.50 116.50L1333.99 118.50L1333.48 120.50L1332.97 122.50L1332.46 124.50L1331.95 126.50L1331.44 128.50L1330.94 130.50L1330.43 132.50L1329.92 134.50L1329.41 136.50L1328.91 138.50L1328.40 140.50L1327.89 142.50L1327.39 144.50L1326.88 146.50L1326.38 148.50L1325.87 150.50L1325.36 152.50L1324.86 154.50L1324.35 156.50L1323.85 158.50L1323.35 160.50L1322.84 162.50L1322.34 164.50L1321.83 166.50L1321.33 168.50L1320.83 170.50L1320.32 172.50L1319.82 174.50L1319.32 176.50L1318.82 178.50L1318.31 180.50L1317.81 182.50L1317.31 184.50L1316.81 186.50L1316.31 188.50L1315.80 190.50L1315.30 192.50L1314.80 194.50L1314.30 196.50L1313.80 198.50L1313.30 200.50L1312.80 202.50L1312.30 204.50L1311.80 206.50L1311.30 208.50L1310.81 210.50L1310.31 212.50L1309.81 214.50L1309.31 216.50L1308.81 218.50L1308.31 220.50L1307.82 222.50L1307.32 224.50L1306.82 226.50L1306.33 228.50L1305.83 230.50L1305.33 232.50L1304.84 234.50L1304.34 236.50L1303.84 238.50L1303.35 240.50L1302.85 242.50L1302.36 244.50L1301.86 246.50L1301.37 248.50L1300.87 250.50L1300.38 252.50L1299.89 254.50L1299.39 256.50L1298.90 258.50L1298.41 260.50L1297.91 262.50L1297.42 264.50L1296.93 266.50L1296.43 268.50L1295.94 270.50L1295.45 272.50L1294.96 274.50L1294.47 276.50L1293.98 278.50L1293.48 280.50L1292.99 282.50L1292.50 284.50L1292.01 286.50L1291.52 288.50L1291.03 290.50L1290.54 292.50L1290.05 294.50L1289.56 296.50L1289.07 298.50L1288.59 300.50L1288.10 302.50L1287.61 304.50L1287.12 306.50L1286.63 308.50L1286.14 310.50L1285.66 312.50L1285.17 314.50L1284.68 316.50L1284.20 318.50L1283.71 320.50L1283.22 322.50L1282.74 324.50L1282.25 326.50L1281.77 328.50L1281.28 330.50L1280.79 332.50L1280.31 334.50L1279.82 336.50L1279.34 338.50L1278.86 340.50L1278.37 342.50L1277.89 344.50L1277.40 346.50L1276.92 348.50L1276.44 350.50L1275.95 352.50L1275.47 354.50L1274.99 356.50L1274.51 358.50L1274.02 360.50L1273.54 362.50L1273.06 364.50L1272.58 366.50L1272.10 368.50L1271.62 370.50L1271.14 372.50L1270.66 374.50L1270.18 376.50L1269.70 378.50L1269.22 380.50L1268.74 382.50L1268.26 384.50L1267.78 386.50L1267.30 388.50L1266.82 390.50L1266.34 392.50L1265.86 394.50L1265.39 396.50L1264.91 398.50L1264.43 400.50L1263.95 402.50L1263.48 404.50L1263.00 406.50L1262.52 408.50L1262.05 410.50L1261.57 412.50L1261.09 414.50L1260.62 416.50L1260.14 418.50L1259.67 420.50L1259.19 422.50L1258.72 424.50L1258.24 426.50L1257.77 428.50L1257.29 430.50L1256.82 432.50L1256.35 434.50L1255.87 436.50L1255.40 438.50L1254.93 440.50L1254.45 442.50L1253.98 444.50L1253.51 446.50L1253.18 447.90 M1238.70 509.70L1238.51 510.50L1238.04 512.50L1237.58 514.50L1237.12 516.50L1236.65 518.50L1236.19 520.50L1235.72 522.50L1235.26 524.50L1234.80 526.50L1234.33 528.50L1233.87 530.50L1233.41 532.50L1232.95 534.50L1232.48 536.50L1232.02 538.50L1231.56 540.50L1231.10 542.50L1230.64 544.50L1230.18 546.50L1229.71 548.50L1229.25 550.50L1228.79 552.50L1228.33 554.50L1227.87 556.50L1227.41 558.50L1226.95 560.50L1226.49 562.50L1226.04 564.50L1225.58 566.50L1225.12 568.50L1224.66 570.50L1224.20 572.50L1223.74 574.50L1223.29 576.50L1222.83 578.50L1222.37 580.50L1221.91 582.50L1221.46 584.50L1221.00 586.50L1220.54 588.50L1220.09 590.50L1219.63 592.50L1219.18 594.50L1218.72 596.50L1218.27 598.50L1217.81 600.50L1217.36 602.50L1216.90 604.50L1216.45 606.50L1215.99 608.50L1215.54 610.50L1215.09 612.50L1214.63 614.50L1214.18 616.50L1213.73 618.50L1213.28 620.50L1212.82 622.50L1212.37 624.50L1211.92 626.50L1211.47 628.50L1211.02 630.50L1210.56 632.50L1210.11 634.50L1209.66 636.50L1209.21 638.50L1208.76 640.50L1208.31 642.50L1207.86 644.50L1207.41 646.50L1206.96 648.50L1206.51 650.50L1206.06 652.50L1205.61 654.50L1205.17 656.50L1204.72 658.50L1204.27 660.50L1203.82 662.50L1203.37 664.50L1202.93 666.50L1202.48 668.50L1202.03 670.50L1201.59 672.50L1201.14 674.50L1200.69 676.50L1200.25 678.50L1199.80 680.50L1199.36 682.50L1198.91 684.50L1198.47 686.50L1198.02 688.50L1197.58 690.50L1197.13 692.50L1196.69 694.50L1196.24 696.50L1195.80 698.50L1195.36 700.50L1194.91 702.50L1194.47 704.50L1194.03 706.50L1193.58 708.50L1193.14 710.50L1192.70 712.50L1192.26 714.50L1191.82 716.50L1191.37 718.50L1190.93 720.50L1190.49 722.50L1190.05 724.50L1189.61 726.50L1189.17 728.50L1188.73 730.50L1188.29 732.50L1187.85 734.50L1187.41 736.50L1186.97 738.50L1186.69 739.80 M1173.23 801.60L1173.04 802.50L1172.61 804.50L1172.18 806.50L1171.75 808.50L1171.32 810.50L1170.89 812.50L1170.45 814.50L1170.02 816.50L1169.59 818.50L1169.16 820.50L1168.74 822.50L1168.31 824.50L1167.88 826.50L1167.45 828.50L1167.02 830.50L1166.59 832.50L1166.16 834.50L1165.74 836.50L1165.31 838.50L1164.88 840.50L1164.45 842.50 M1416.42 68.50L1415.91 70.50L1415.39 72.50L1414.87 74.50L1414.36 76.50L1413.85 78.50L1413.33 80.50L1412.82 82.50L1412.30 84.50L1411.79 86.50L1411.27 88.50L1410.76 90.50L1410.25 92.50L1409.74 94.50L1409.22 96.50L1408.71 98.50L1408.20 100.50L1407.69 102.50L1407.17 104.50L1406.66 106.50L1406.15 108.50L1405.64 110.50L1405.13 112.50L1404.62 114.50L1404.11 116.50L1403.60 118.50L1403.09 120.50L1402.58 122.50L1402.07 124.50L1401.56 126.50L1401.05 128.50L1400.54 130.50L1400.03 132.50L1399.52 134.50L1399.02 136.50L1398.51 138.50L1398.00 140.50L1397.49 142.50L1396.98 144.50L1396.48 146.50L1395.97 148.50L1395.46 150.50L1394.96 152.50L1394.45 154.50L1393.95 156.50L1393.44 158.50L1392.93 160.50L1392.43 162.50L1391.92 164.50L1391.42 166.50L1390.91 168.50L1390.41 170.50L1389.90 172.50L1389.40 174.50L1388.90 176.50L1388.39 178.50L1387.89 180.50L1387.39 182.50L1386.88 184.50L1386.38 186.50L1385.88 188.50L1385.38 190.50L1384.87 192.50L1384.37 194.50L1383.87 196.50L1383.37 198.50L1382.87 200.50L1382.37 202.50L1381.87 204.50L1381.37 206.50L1380.87 208.50L1380.37 210.50L1379.87 212.50L1379.37 214.50L1378.87 216.50L1378.37 218.50L1377.87 220.50L1377.37 222.50L1376.87 224.50L1376.37 226.50L1375.88 228.50L1375.38 230.50L1374.88 232.50L1374.38 234.50L1373.89 236.50L1373.39 238.50L1372.89 240.50L1372.40 242.50L1371.90 244.50L1371.40 246.50L1370.91 248.50L1370.41 250.50L1369.92 252.50L1369.42 254.50L1368.93 256.50L1368.43 258.50L1367.94 260.50L1367.44 262.50L1366.95 264.50L1366.46 266.50L1365.96 268.50L1365.47 270.50L1364.98 272.50L1364.48 274.50L1363.99 276.50L1363.50 278.50L1363.01 280.50L1362.51 282.50L1362.02 284.50L1361.53 286.50L1361.04 288.50L1360.55 290.50L1360.06 292.50L1359.57 294.50L1359.08 296.50L1358.59 298.50L1358.10 300.50L1357.61 302.50L1357.12 304.50L1356.63 306.50L1356.14 308.50L1355.65 310.50L1355.16 312.50L1354.67 314.50L1354.19 316.50L1353.70 318.50L1353.21 320.50L1352.72 322.50L1352.23 324.50L1351.75 326.50L1351.26 328.50L1350.77 330.50L1350.29 332.50L1349.80 334.50L1349.32 336.50L1348.83 338.50L1348.34 340.50L1347.86 342.50L1347.37 344.50L1346.89 346.50L1346.41 348.50L1345.92 350.50L1345.44 352.50L1344.95 354.50L1344.47 356.50L1343.99 358.50L1343.50 360.50L1343.02 362.50L1342.54 364.50L1342.05 366.50L1341.57 368.50L1341.09 370.50L1340.61 372.50L1340.13 374.50L1339.64 376.50L1339.16 378.50L1338.68 380.50L1338.20 382.50L1337.72 384.50L1337.24 386.50L1336.76 388.50L1336.28 390.50L1335.80 392.50L1335.32 394.50L1334.84 396.50L1334.36 398.50L1333.89 400.50L1333.41 402.50L1332.93 404.50L1332.45 406.50L1331.97 408.50L1331.50 410.50L1331.02 412.50L1330.54 414.50L1330.06 416.50L1329.59 418.50L1329.11 420.50L1328.63 422.50L1328.16 424.50L1327.68 426.50L1327.21 428.50L1326.73 430.50L1326.26 432.50L1325.78 434.50L1325.31 436.50L1324.83 438.50L1324.36 440.50L1323.88 442.50L1323.41 444.50L1322.94 446.50L1322.46 448.50L1321.99 450.50L1321.52 452.50L1321.05 454.50L1320.57 456.50L1320.10 458.50L1319.63 460.50L1319.16 462.50L1318.69 464.50L1318.21 466.50L1317.74 468.50L1317.27 470.50L1316.80 472.50L1316.33 474.50L1315.86 476.50L1315.39 478.50L1314.92 480.50L1314.45 482.50L1313.98 484.50L1313.51 486.50L1313.04 488.50L1312.58 490.50L1312.11 492.50L1311.64 494.50L1311.17 496.50L1310.70 498.50L1310.24 500.50L1309.77 502.50L1309.30 504.50L1308.84 506.50L1308.37 508.50L1307.90 510.50L1307.44 512.50L1306.97 514.50L1306.51 516.50L1306.04 518.50L1305.58 520.50L1305.11 522.50L1304.65 524.50L1304.18 526.50L1303.72 528.50L1303.25 530.50L1302.79 532.50L1302.33 534.50L1301.86 536.50L1301.40 538.50L1300.94 540.50L1300.47 542.50L1300.01 544.50L1299.55 546.50L1299.09 548.50L1298.62 550.50L1298.16 552.50L1297.70 554.50L1297.24 556.50L1296.78 558.50L1296.32 560.50L1295.86 562.50L1295.40 564.50L1294.94 566.50L1294.48 568.50L1294.02 570.50L1293.56 572.50L1293.10 574.50L1292.64 576.50L1292.18 578.50L1291.73 580.50L1291.27 582.50L1290.81 584.50L1290.35 586.50L1289.89 588.50L1289.44 590.50L1288.98 592.50L1288.52 594.50L1288.07 596.50L1287.61 598.50L1287.15 600.50L1286.70 602.50L1286.24 604.50L1285.79 606.50L1285.33 608.50L1284.88 610.50L1284.42 612.50L1283.97 614.50L1283.51 616.50L1283.06 618.50L1282.61 620.50L1282.15 622.50L1281.70 624.50L1281.25 626.50L1280.79 628.50L1280.34 630.50L1279.89 632.50L1279.44 634.50L1278.98 636.50L1278.53 638.50L1278.08 640.50L1277.63 642.50L1277.18 644.50L1276.73 646.50L1276.28 648.50L1275.83 650.50L1275.38 652.50L1274.93 654.50L1274.48 656.50L1274.03 658.50L1273.58 660.50L1273.13 662.50L1272.68 664.50L1272.23 666.50L1271.78 668.50L1271.34 670.50L1270.89 672.50L1270.44 674.50L1269.99 676.50L1269.55 678.50L1269.10 680.50L1268.65 682.50L1268.21 684.50L1267.76 686.50L1267.31 688.50L1266.87 690.50L1266.42 692.50L1265.98 694.50L1265.53 696.50L1265.09 698.50L1264.64 700.50L1264.20 702.50L1263.75 704.50L1263.31 706.50L1262.87 708.50L1262.42 710.50L1261.98 712.50L1261.54 714.50L1261.09 716.50L1260.65 718.50L1260.21 720.50L1259.77 722.50L1259.32 724.50L1258.88 726.50L1258.44 728.50L1258.00 730.50L1257.56 732.50L1257.12 734.50L1256.68 736.50L1256.24 738.50L1255.95 739.80 M1242.46 801.60L1242.27 802.50L1241.83 804.50L1241.40 806.50L1240.97 808.50L1240.54 810.50L1240.11 812.50L1239.67 814.50L1239.24 816.50L1238.81 818.50L1238.38 820.50L1237.95 822.50L1237.52 824.50L1237.09 826.50L1236.66 828.50L1236.23 830.50L1235.80 832.50L1235.37 834.50L1234.94 836.50L1234.51 838.50L1234.08 840.50L1233.66 842.50"/>
</g>
<g clip-path="url(#axclip)">
<g transform="translate(198.93 203.90) rotate(-76.45) translate(-23.03 7.57)" font-size="21.70" font-weight="normal" font-style="normal" fill="#000" stroke="#000" stroke-width="0.2"><text transform="translate(6.34 0) scale(0.974,1)" x="-6.03">2</text><text transform="translate(19.92 0) scale(1.046,1)" x="-6.11">6</text><text transform="translate(29.76 0) scale(1.037,1)" x="-3.01">.</text><text transform="translate(39.66 0) scale(0.988,1)" x="-6.04">7</text></g>
<g transform="translate(266.24 213.50) rotate(-76.45) translate(-23.21 7.57)" font-size="21.70" font-weight="normal" font-style="normal" fill="#000" stroke="#000" stroke-width="0.2"><text transform="translate(6.34 0) scale(0.974,1)" x="-6.03">2</text><text transform="translate(19.92 0) scale(1.046,1)" x="-6.11">6</text><text transform="translate(29.76 0) scale(1.037,1)" x="-3.01">.</text><text transform="translate(39.69 0) scale(1.021,1)" x="-6.03">8</text></g>
<g transform="translate(198.53 504.50) rotate(-77.35) translate(-23.21 7.57)" font-size="21.70" font-weight="normal" font-style="normal" fill="#000" stroke="#000" stroke-width="0.2"><text transform="translate(6.34 0) scale(0.974,1)" x="-6.03">2</text><text transform="translate(19.92 0) scale(1.046,1)" x="-6.11">6</text><text transform="translate(29.76 0) scale(1.037,1)" x="-3.01">.</text><text transform="translate(39.69 0) scale(1.021,1)" x="-6.03">8</text></g>
<g transform="translate(340.45 194.50) rotate(-76.36) translate(-23.19 7.57)" font-size="21.70" font-weight="normal" font-style="normal" fill="#000" stroke="#000" stroke-width="0.2"><text transform="translate(6.34 0) scale(0.974,1)" x="-6.03">2</text><text transform="translate(19.92 0) scale(1.046,1)" x="-6.11">6</text><text transform="translate(29.76 0) scale(1.037,1)" x="-3.01">.</text><text transform="translate(39.62 0) scale(1.044,1)" x="-6.03">9</text></g>
<g transform="translate(272.04 486.50) rotate(-77.27) translate(-23.19 7.57)" font-size="21.70" font-weight="normal" font-style="normal" fill="#000" stroke="#000" stroke-width="0.2"><text transform="translate(6.34 0) scale(0.974,1)" x="-6.03">2</text><text transform="translate(19.92 0) scale(1.046,1)" x="-6.11">6</text><text transform="translate(29.76 0) scale(1.037,1)" x="-3.01">.</text><text transform="translate(39.62 0) scale(1.044,1)" x="-6.03">9</text></g>
<g transform="translate(208.50 778.60) rotate(-78.19) translate(-23.19 7.57)" font-size="21.70" font-weight="normal" font-style="normal" fill="#000" stroke="#000" stroke-width="0.2"><text transform="translate(6.34 0) scale(0.974,1)" x="-6.03">2</text><text transform="translate(19.92 0) scale(1.046,1)" x="-6.11">6</text><text transform="translate(29.76 0) scale(1.037,1)" x="-3.01">.</text><text transform="translate(39.62 0) scale(1.044,1)" x="-6.03">9</text></g>
<g transform="translate(407.59 204.70) rotate(-76.37) translate(-13.11 7.72)" font-size="21.70" font-weight="normal" font-style="normal" fill="#000" stroke="#000" stroke-width="0.2"><text transform="translate(6.34 0) scale(0.974,1)" x="-6.03">2</text><text transform="translate(19.81 0) scale(0.988,1)" x="-6.04">7</text></g>
<g transform="translate(339.36 495.95) rotate(-77.27) translate(-13.11 7.72)" font-size="21.70" font-weight="normal" font-style="normal" fill="#000" stroke="#000" stroke-width="0.2"><text transform="translate(6.34 0) scale(0.974,1)" x="-6.03">2</text><text transform="translate(19.81 0) scale(0.988,1)" x="-6.04">7</text></g>
<g transform="translate(275.55 789.25) rotate(-78.19) translate(-13.11 7.72)" font-size="21.70" font-weight="normal" font-style="normal" fill="#000" stroke="#000" stroke-width="0.2"><text transform="translate(6.34 0) scale(0.974,1)" x="-6.03">2</text><text transform="translate(19.81 0) scale(0.988,1)" x="-6.04">7</text></g>
<g transform="translate(479.72 194.35) rotate(-76.30) translate(-22.96 7.72)" font-size="21.70" font-weight="normal" font-style="normal" fill="#000" stroke="#000" stroke-width="0.2"><text transform="translate(6.34 0) scale(0.974,1)" x="-6.03">2</text><text transform="translate(19.81 0) scale(0.988,1)" x="-6.04">7</text><text transform="translate(29.76 0) scale(1.037,1)" x="-3.01">.</text><text transform="translate(39.88 0) scale(0.965,1)" x="-6.33">1</text></g>
<g transform="translate(410.96 486.45) rotate(-77.21) translate(-22.96 7.72)" font-size="21.70" font-weight="normal" font-style="normal" fill="#000" stroke="#000" stroke-width="0.2"><text transform="translate(6.34 0) scale(0.974,1)" x="-6.03">2</text><text transform="translate(19.81 0) scale(0.988,1)" x="-6.04">7</text><text transform="translate(29.76 0) scale(1.037,1)" x="-3.01">.</text><text transform="translate(39.88 0) scale(0.965,1)" x="-6.33">1</text></g>
<g transform="translate(347.07 778.60) rotate(-78.13) translate(-22.96 7.72)" font-size="21.70" font-weight="normal" font-style="normal" fill="#000" stroke="#000" stroke-width="0.2"><text transform="translate(6.34 0) scale(0.974,1)" x="-6.03">2</text><text transform="translate(19.81 0) scale(0.988,1)" x="-6.04">7</text><text transform="translate(29.76 0) scale(1.037,1)" x="-3.01">.</text><text transform="translate(39.88 0) scale(0.965,1)" x="-6.33">1</text></g>
<g transform="translate(549.34 194.35) rotate(-76.27) translate(-22.88 7.72)" font-size="21.70" font-weight="normal" font-style="normal" fill="#000" stroke="#000" stroke-width="0.2"><text transform="translate(6.34 0) scale(0.974,1)" x="-6.03">2</text><text transform="translate(19.81 0) scale(0.988,1)" x="-6.04">7</text><text transform="translate(29.76 0) scale(1.037,1)" x="-3.01">.</text><text transform="translate(39.42 0) scale(0.974,1)" x="-6.03">2</text></g>
<g transform="translate(480.41 486.45) rotate(-77.17) translate(-22.88 7.72)" font-size="21.70" font-weight="normal" font-style="normal" fill="#000" stroke="#000" stroke-width="0.2"><text transform="translate(6.34 0) scale(0.974,1)" x="-6.03">2</text><text transform="translate(19.81 0) scale(0.988,1)" x="-6.04">7</text><text transform="translate(29.76 0) scale(1.037,1)" x="-3.01">.</text><text transform="translate(39.42 0) scale(0.974,1)" x="-6.03">2</text></g>
<g transform="translate(416.35 778.60) rotate(-78.09) translate(-22.88 7.72)" font-size="21.70" font-weight="normal" font-style="normal" fill="#000" stroke="#000" stroke-width="0.2"><text transform="translate(6.34 0) scale(0.974,1)" x="-6.03">2</text><text transform="translate(19.81 0) scale(0.988,1)" x="-6.04">7</text><text transform="translate(29.76 0) scale(1.037,1)" x="-3.01">.</text><text transform="translate(39.42 0) scale(0.974,1)" x="-6.03">2</text></g>
<g transform="translate(618.95 194.35) rotate(-76.24) translate(-23.09 7.57)" font-size="21.70" font-weight="normal" font-style="normal" fill="#000" stroke="#000" stroke-width="0.2"><text transform="translate(6.34 0) scale(0.974,1)" x="-6.03">2</text><text transform="translate(19.81 0) scale(0.988,1)" x="-6.04">7</text><text transform="translate(29.76 0) scale(1.037,1)" x="-3.01">.</text><text transform="translate(39.66 0) scale(0.970,1)" x="-5.97">3</text></g>
<g transform="translate(549.85 486.45) rotate(-77.14) translate(-23.09 7.57)" font-size="21.70" font-weight="normal" font-style="normal" fill="#000" stroke="#000" stroke-width="0.2"><text transform="translate(6.34 0) scale(0.974,1)" x="-6.03">2</text><text transform="translate(19.81 0) scale(0.988,1)" x="-6.04">7</text><text transform="translate(29.76 0) scale(1.037,1)" x="-3.01">.</text><text transform="translate(39.66 0) scale(0.970,1)" x="-5.97">3</text></g>
<g transform="translate(485.62 778.60) rotate(-78.06) translate(-23.09 7.57)" font-size="21.70" font-weight="normal" font-style="normal" fill="#000" stroke="#000" stroke-width="0.2"><text transform="translate(6.34 0) scale(0.974,1)" x="-6.03">2</text><text transform="translate(19.81 0) scale(0.988,1)" x="-6.04">7</text><text transform="translate(29.76 0) scale(1.037,1)" x="-3.01">.</text><text transform="translate(39.66 0) scale(0.970,1)" x="-5.97">3</text></g>
<g transform="translate(688.55 194.35) rotate(-76.21) translate(-23.33 7.72)" font-size="21.70" font-weight="normal" font-style="normal" fill="#000" stroke="#000" stroke-width="0.2"><text transform="translate(6.34 0) scale(0.974,1)" x="-6.03">2</text><text transform="translate(19.81 0) scale(0.988,1)" x="-6.04">7</text><text transform="translate(29.76 0) scale(1.037,1)" x="-3.01">.</text><text transform="translate(39.62 0) scale(1.011,1)" x="-5.97">4</text></g>
<g transform="translate(619.29 486.45) rotate(-77.11) translate(-23.33 7.72)" font-size="21.70" font-weight="normal" font-style="normal" fill="#000" stroke="#000" stroke-width="0.2"><text transform="translate(6.34 0) scale(0.974,1)" x="-6.03">2</text><text transform="translate(19.81 0) scale(0.988,1)" x="-6.04">7</text><text transform="translate(29.76 0) scale(1.037,1)" x="-3.01">.</text><text transform="translate(39.62 0) scale(1.011,1)" x="-5.97">4</text></g>
<g transform="translate(554.90 778.60) rotate(-78.03) translate(-23.33 7.72)" font-size="21.70" font-weight="normal" font-style="normal" fill="#000" stroke="#000" stroke-width="0.2"><text transform="translate(6.34 0) scale(0.974,1)" x="-6.03">2</text><text transform="translate(19.81 0) scale(0.988,1)" x="-6.04">7</text><text transform="translate(29.76 0) scale(1.037,1)" x="-3.01">.</text><text transform="translate(39.62 0) scale(1.011,1)" x="-5.97">4</text></g>
<g transform="translate(758.15 194.35) rotate(-76.18) translate(-23.01 7.57)" font-size="21.70" font-weight="normal" font-style="normal" fill="#000" stroke="#000" stroke-width="0.2"><text transform="translate(6.34 0) scale(0.974,1)" x="-6.03">2</text><text transform="translate(19.81 0) scale(0.988,1)" x="-6.04">7</text><text transform="translate(29.76 0) scale(1.037,1)" x="-3.01">.</text><text transform="translate(39.59 0) scale(0.954,1)" x="-6.01">5</text></g>
<g transform="translate(688.73 486.45) rotate(-77.08) translate(-23.01 7.57)" font-size="21.70" font-weight="normal" font-style="normal" fill="#000" stroke="#000" stroke-width="0.2"><text transform="translate(6.34 0) scale(0.974,1)" x="-6.03">2</text><text transform="translate(19.81 0) scale(0.988,1)" x="-6.04">7</text><text transform="translate(29.76 0) scale(1.037,1)" x="-3.01">.</text><text transform="translate(39.59 0) scale(0.954,1)" x="-6.01">5</text></g>
<g transform="translate(624.17 778.60) rotate(-78.00) translate(-23.01 7.57)" font-size="21.70" font-weight="normal" font-style="normal" fill="#000" stroke="#000" stroke-width="0.2"><text transform="translate(6.34 0) scale(0.974,1)" x="-6.03">2</text><text transform="translate(19.81 0) scale(0.988,1)" x="-6.04">7</text><text transform="translate(29.76 0) scale(1.037,1)" x="-3.01">.</text><text transform="translate(39.59 0) scale(0.954,1)" x="-6.01">5</text></g>
<g transform="translate(827.75 194.35) rotate(-76.15) translate(-23.26 7.57)" font-size="21.70" font-weight="normal" font-style="normal" fill="#000" stroke="#000" stroke-width="0.2"><text transform="translate(6.34 0) scale(0.974,1)" x="-6.03">2</text><text transform="translate(19.81 0) scale(0.988,1)" x="-6.04">7</text><text transform="translate(29.76 0) scale(1.037,1)" x="-3.01">.</text><text transform="translate(39.77 0) scale(1.046,1)" x="-6.11">6</text></g>
<g transform="translate(758.17 486.45) rotate(-77.05) translate(-23.26 7.57)" font-size="21.70" font-weight="normal" font-style="normal" fill="#000" stroke="#000" stroke-width="0.2"><text transform="translate(6.34 0) scale(0.974,1)" x="-6.03">2</text><text transform="translate(19.81 0) scale(0.988,1)" x="-6.04">7</text><text transform="translate(29.76 0) scale(1.037,1)" x="-3.01">.</text><text transform="translate(39.77 0) scale(1.046,1)" x="-6.11">6</text></g>
<g transform="translate(693.44 778.60) rotate(-77.97) translate(-23.26 7.57)" font-size="21.70" font-weight="normal" font-style="normal" fill="#000" stroke="#000" stroke-width="0.2"><text transform="translate(6.34 0) scale(0.974,1)" x="-6.03">2</text><text transform="translate(19.81 0) scale(0.988,1)" x="-6.04">7</text><text transform="translate(29.76 0) scale(1.037,1)" x="-3.01">.</text><text transform="translate(39.77 0) scale(1.046,1)" x="-6.11">6</text></g>
<g transform="translate(897.35 194.35) rotate(-76.13) translate(-23.03 7.72)" font-size="21.70" font-weight="normal" font-style="normal" fill="#000" stroke="#000" stroke-width="0.2"><text transform="translate(6.34 0) scale(0.974,1)" x="-6.03">2</text><text transform="translate(19.81 0) scale(0.988,1)" x="-6.04">7</text><text transform="translate(29.76 0) scale(1.037,1)" x="-3.01">.</text><text transform="translate(39.66 0) scale(0.988,1)" x="-6.04">7</text></g>
<g transform="translate(827.60 486.45) rotate(-77.02) translate(-23.03 7.72)" font-size="21.70" font-weight="normal" font-style="normal" fill="#000" stroke="#000" stroke-width="0.2"><text transform="translate(6.34 0) scale(0.974,1)" x="-6.03">2</text><text transform="translate(19.81 0) scale(0.988,1)" x="-6.04">7</text><text transform="translate(29.76 0) scale(1.037,1)" x="-3.01">.</text><text transform="translate(39.66 0) scale(0.988,1)" x="-6.04">7</text></g>
<g transform="translate(762.70 778.60) rotate(-77.94) translate(-23.03 7.72)" font-size="21.70" font-weight="normal" font-style="normal" fill="#000" stroke="#000" stroke-width="0.2"><text transform="translate(6.34 0) scale(0.974,1)" x="-6.03">2</text><text transform="translate(19.81 0) scale(0.988,1)" x="-6.04">7</text><text transform="translate(29.76 0) scale(1.037,1)" x="-3.01">.</text><text transform="translate(39.66 0) scale(0.988,1)" x="-6.04">7</text></g>
<g transform="translate(966.94 194.35) rotate(-76.10) translate(-23.21 7.57)" font-size="21.70" font-weight="normal" font-style="normal" fill="#000" stroke="#000" stroke-width="0.2"><text transform="translate(6.34 0) scale(0.974,1)" x="-6.03">2</text><text transform="translate(19.81 0) scale(0.988,1)" x="-6.04">7</text><text transform="translate(29.76 0) scale(1.037,1)" x="-3.01">.</text><text transform="translate(39.69 0) scale(1.021,1)" x="-6.03">8</text></g>
<g transform="translate(897.03 486.45) rotate(-76.99) translate(-23.21 7.57)" font-size="21.70" font-weight="normal" font-style="normal" fill="#000" stroke="#000" stroke-width="0.2"><text transform="translate(6.34 0) scale(0.974,1)" x="-6.03">2</text><text transform="translate(19.81 0) scale(0.988,1)" x="-6.04">7</text><text transform="translate(29.76 0) scale(1.037,1)" x="-3.01">.</text><text transform="translate(39.69 0) scale(1.021,1)" x="-6.03">8</text></g>
<g transform="translate(831.96 778.60) rotate(-77.90) translate(-23.21 7.57)" font-size="21.70" font-weight="normal" font-style="normal" fill="#000" stroke="#000" stroke-width="0.2"><text transform="translate(6.34 0) scale(0.974,1)" x="-6.03">2</text><text transform="translate(19.81 0) scale(0.988,1)" x="-6.04">7</text><text transform="translate(29.76 0) scale(1.037,1)" x="-3.01">.</text><text transform="translate(39.69 0) scale(1.021,1)" x="-6.03">8</text></g>
<g transform="translate(1036.53 194.35) rotate(-76.07) translate(-23.19 7.57)" font-size="21.70" font-weight="normal" font-style="normal" fill="#000" stroke="#000" stroke-width="0.2"><text transform="translate(6.34 0) scale(0.974,1)" x="-6.03">2</text><text transform="translate(19.81 0) scale(0.988,1)" x="-6.04">7</text><text transform="translate(29.76 0) scale(1.037,1)" x="-3.01">.</text><text transform="translate(39.62 0) scale(1.044,1)" x="-6.03">9</text></g>
<g transform="translate(966.45 486.45) rotate(-76.96) translate(-23.19 7.57)" font-size="21.70" font-weight="normal" font-style="normal" fill="#000" stroke="#000" stroke-width="0.2"><text transform="translate(6.34 0) scale(0.974,1)" x="-6.03">2</text><text transform="translate(19.81 0) scale(0.988,1)" x="-6.04">7</text><text transform="translate(29.76 0) scale(1.037,1)" x="-3.01">.</text><text transform="translate(39.62 0) scale(1.044,1)" x="-6.03">9</text></g>
<g transform="translate(901.22 778.60) rotate(-77.87) translate(-23.19 7.57)" font-size="21.70" font-weight="normal" font-style="normal" fill="#000" stroke="#000" stroke-width="0.2"><text transform="translate(6.34 0) scale(0.974,1)" x="-6.03">2</text><text transform="translate(19.81 0) scale(0.988,1)" x="-6.04">7</text><text transform="translate(29.76 0) scale(1.037,1)" x="-3.01">.</text><text transform="translate(39.62 0) scale(1.044,1)" x="-6.03">9</text></g>
<g transform="translate(1103.54 204.70) rotate(-76.07) translate(-13.28 7.57)" font-size="21.70" font-weight="normal" font-style="normal" fill="#000" stroke="#000" stroke-width="0.2"><text transform="translate(6.34 0) scale(0.974,1)" x="-6.03">2</text><text transform="translate(19.85 0) scale(1.021,1)" x="-6.03">8</text></g>
<g transform="translate(1033.61 496.20) rotate(-76.96) translate(-13.28 7.57)" font-size="21.70" font-weight="normal" font-style="normal" fill="#000" stroke="#000" stroke-width="0.2"><text transform="translate(6.34 0) scale(0.974,1)" x="-6.03">2</text><text transform="translate(19.85 0) scale(1.021,1)" x="-6.03">8</text></g>
<g transform="translate(968.18 789.25) rotate(-77.87) translate(-13.28 7.57)" font-size="21.70" font-weight="normal" font-style="normal" fill="#000" stroke="#000" stroke-width="0.2"><text transform="translate(6.34 0) scale(0.974,1)" x="-6.03">2</text><text transform="translate(19.85 0) scale(1.021,1)" x="-6.03">8</text></g>
<g transform="translate(1175.69 194.35) rotate(-76.01) translate(-22.96 7.57)" font-size="21.70" font-weight="normal" font-style="normal" fill="#000" stroke="#000" stroke-width="0.2"><text transform="translate(6.34 0) scale(0.974,1)" x="-6.03">2</text><text transform="translate(19.85 0) scale(1.021,1)" x="-6.03">8</text><text transform="translate(29.76 0) scale(1.037,1)" x="-3.01">.</text><text transform="translate(39.88 0) scale(0.965,1)" x="-6.33">1</text></g>
<g transform="translate(1105.29 486.45) rotate(-76.90) translate(-22.96 7.57)" font-size="21.70" font-weight="normal" font-style="normal" fill="#000" stroke="#000" stroke-width="0.2"><text transform="translate(6.34 0) scale(0.974,1)" x="-6.03">2</text><text transform="translate(19.85 0) scale(1.021,1)" x="-6.03">8</text><text transform="translate(29.76 0) scale(1.037,1)" x="-3.01">.</text><text transform="translate(39.88 0) scale(0.965,1)" x="-6.33">1</text></g>
<g transform="translate(1039.72 778.60) rotate(-77.81) translate(-22.96 7.57)" font-size="21.70" font-weight="normal" font-style="normal" fill="#000" stroke="#000" stroke-width="0.2"><text transform="translate(6.34 0) scale(0.974,1)" x="-6.03">2</text><text transform="translate(19.85 0) scale(1.021,1)" x="-6.03">8</text><text transform="translate(29.76 0) scale(1.037,1)" x="-3.01">.</text><text transform="translate(39.88 0) scale(0.965,1)" x="-6.33">1</text></g>
<g transform="translate(1245.27 194.35) rotate(-75.98) translate(-22.88 7.57)" font-size="21.70" font-weight="normal" font-style="normal" fill="#000" stroke="#000" stroke-width="0.2"><text transform="translate(6.34 0) scale(0.974,1)" x="-6.03">2</text><text transform="translate(19.85 0) scale(1.021,1)" x="-6.03">8</text><text transform="translate(29.76 0) scale(1.037,1)" x="-3.01">.</text><text transform="translate(39.42 0) scale(0.974,1)" x="-6.03">2</text></g>
<g transform="translate(1174.71 486.45) rotate(-76.87) translate(-22.88 7.57)" font-size="21.70" font-weight="normal" font-style="normal" fill="#000" stroke="#000" stroke-width="0.2"><text transform="translate(6.34 0) scale(0.974,1)" x="-6.03">2</text><text transform="translate(19.85 0) scale(1.021,1)" x="-6.03">8</text><text transform="translate(29.76 0) scale(1.037,1)" x="-3.01">.</text><text transform="translate(39.42 0) scale(0.974,1)" x="-6.03">2</text></g>
<g transform="translate(1108.97 778.60) rotate(-77.78) translate(-22.88 7.57)" font-size="21.70" font-weight="normal" font-style="normal" fill="#000" stroke="#000" stroke-width="0.2"><text transform="translate(6.34 0) scale(0.974,1)" x="-6.03">2</text><text transform="translate(19.85 0) scale(1.021,1)" x="-6.03">8</text><text transform="translate(29.76 0) scale(1.037,1)" x="-3.01">.</text><text transform="translate(39.42 0) scale(0.974,1)" x="-6.03">2</text></g>
<g transform="translate(1245.56 480.30) rotate(-76.82) translate(-23.09 7.57)" font-size="21.70" font-weight="normal" font-style="normal" fill="#000" stroke="#000" stroke-width="0.2"><text transform="translate(6.34 0) scale(0.974,1)" x="-6.03">2</text><text transform="translate(19.85 0) scale(1.021,1)" x="-6.03">8</text><text transform="translate(29.76 0) scale(1.037,1)" x="-3.01">.</text><text transform="translate(39.66 0) scale(0.970,1)" x="-5.97">3</text></g>
<g transform="translate(1179.61 772.20) rotate(-77.72) translate(-23.09 7.57)" font-size="21.70" font-weight="normal" font-style="normal" fill="#000" stroke="#000" stroke-width="0.2"><text transform="translate(6.34 0) scale(0.974,1)" x="-6.03">2</text><text transform="translate(19.85 0) scale(1.021,1)" x="-6.03">8</text><text transform="translate(29.76 0) scale(1.037,1)" x="-3.01">.</text><text transform="translate(39.66 0) scale(0.970,1)" x="-5.97">3</text></g>
<g transform="translate(1248.85 772.20) rotate(-77.69) translate(-23.33 7.57)" font-size="21.70" font-weight="normal" font-style="normal" fill="#000" stroke="#000" stroke-width="0.2"><text transform="translate(6.34 0) scale(0.974,1)" x="-6.03">2</text><text transform="translate(19.85 0) scale(1.021,1)" x="-6.03">8</text><text transform="translate(29.76 0) scale(1.037,1)" x="-3.01">.</text><text transform="translate(39.62 0) scale(1.011,1)" x="-5.97">4</text></g>
</g>
<path d="M183.5 70V840.5H1281.5" fill="none" stroke="#262626" stroke-width="1.05"/>
<path d="M183.5 70.5H194.5 M183.5 263.5H194.5 M183.5 455.5H194.5 M183.5 648.5H194.5 M457.5 840.5V829.5 M732.5 840.5V829.5 M1007.5 840.5V829.5 M1281.5 840.5V829.5" fill="none" stroke="#262626" stroke-width="1.05"/>
<g transform="translate(170.12 869.60)" font-size="21.80" font-weight="normal" font-style="normal" fill="#262626" stroke="#262626" stroke-width="0.2"><text transform="translate(6.54 0) scale(0.961,1)" x="-6.00">3</text><text transform="translate(19.68 0) scale(1.001,1)" x="-5.99">4</text></g>
<g transform="translate(434.57 869.60)" font-size="21.80" font-weight="normal" font-style="normal" fill="#262626" stroke="#262626" stroke-width="0.2"><text transform="translate(6.54 0) scale(0.961,1)" x="-6.00">3</text><text transform="translate(19.68 0) scale(1.001,1)" x="-5.99">4</text><text transform="translate(29.62 0) scale(1.027,1)" x="-3.03">.</text><text transform="translate(39.40 0) scale(0.945,1)" x="-6.04">5</text></g>
<g transform="translate(719.45 869.60)" font-size="21.80" font-weight="normal" font-style="normal" fill="#262626" stroke="#262626" stroke-width="0.2"><text transform="translate(6.54 0) scale(0.961,1)" x="-6.00">3</text><text transform="translate(19.65 0) scale(0.945,1)" x="-6.04">5</text></g>
<g transform="translate(984.57 869.60)" font-size="21.80" font-weight="normal" font-style="normal" fill="#262626" stroke="#262626" stroke-width="0.2"><text transform="translate(6.54 0) scale(0.961,1)" x="-6.00">3</text><text transform="translate(19.65 0) scale(0.945,1)" x="-6.04">5</text><text transform="translate(29.62 0) scale(1.027,1)" x="-3.03">.</text><text transform="translate(39.40 0) scale(0.945,1)" x="-6.04">5</text></g>
<g transform="translate(1268.19 869.60)" font-size="21.80" font-weight="normal" font-style="normal" fill="#262626" stroke="#262626" stroke-width="0.2"><text transform="translate(6.54 0) scale(0.961,1)" x="-6.00">3</text><text transform="translate(19.83 0) scale(1.036,1)" x="-6.14">6</text></g>
<g transform="translate(160.20 77.85)" font-size="21.80" font-weight="normal" font-style="normal" fill="#262626" stroke="#262626" stroke-width="0.2"><text transform="translate(6.55 0) scale(0.979,1)" x="-6.07">7</text></g>
<g transform="translate(142.49 270.74)" font-size="21.80" font-weight="normal" font-style="normal" fill="#262626" stroke="#262626" stroke-width="0.2"><text transform="translate(6.66 0) scale(1.036,1)" x="-6.14">6</text><text transform="translate(16.45 0) scale(1.027,1)" x="-3.03">.</text><text transform="translate(26.23 0) scale(0.945,1)" x="-6.04">5</text></g>
<g transform="translate(160.33 462.84)" font-size="21.80" font-weight="normal" font-style="normal" fill="#262626" stroke="#262626" stroke-width="0.2"><text transform="translate(6.66 0) scale(1.036,1)" x="-6.14">6</text></g>
<g transform="translate(142.49 655.20)" font-size="21.80" font-weight="normal" font-style="normal" fill="#262626" stroke="#262626" stroke-width="0.2"><text transform="translate(6.48 0) scale(0.945,1)" x="-6.04">5</text><text transform="translate(16.45 0) scale(1.027,1)" x="-3.03">.</text><text transform="translate(26.23 0) scale(0.945,1)" x="-6.04">5</text></g>
<g transform="translate(160.24 847.70)" font-size="21.80" font-weight="normal" font-style="normal" fill="#262626" stroke="#262626" stroke-width="0.2"><text transform="translate(6.48 0) scale(0.945,1)" x="-6.04">5</text></g>
<g transform="translate(543.83 913.80)" font-size="39.40" font-weight="normal" font-style="normal" fill="#262626" stroke="#262626" stroke-width="0.3"><text transform="translate(12.09 0) scale(0.848,1)" x="-13.13">S</text><text transform="translate(34.72 0) scale(0.856,1)" x="-11.79">a</text><text transform="translate(52.00 0) scale(0.973,1)" x="-4.39">l</text><text transform="translate(62.42 0) scale(0.973,1)" x="-4.37">i</text><text transform="translate(79.61 0) scale(1.026,1)" x="-10.99">n</text><text transform="translate(96.61 0) scale(0.973,1)" x="-4.37">i</text><text transform="translate(109.21 0) scale(1.272,1)" x="-5.63">t</text><text transform="translate(127.61 0) scale(1.022,1)" x="-9.86">y</text><text transform="translate(158.05 0) scale(0.805,1)" x="-7.67">(</text><text transform="translate(177.35 0) scale(0.848,1)" x="-13.13">S</text><text transform="translate(208.08 0) scale(0.992,1)" x="-6.72">[</text><text transform="translate(228.11 0) scale(0.842,1)" x="-13.72">P</text><text transform="translate(250.31 0) scale(0.848,1)" x="-13.13">S</text><text transform="translate(274.12 0) scale(0.848,1)" x="-13.13">S</text><text transform="translate(292.59 0) scale(1.026,1)" x="-6.56">-</text><text transform="translate(311.22 0) scale(0.981,1)" x="-10.98">7</text><text transform="translate(335.14 0) scale(1.014,1)" x="-10.96">8</text><text transform="translate(354.60 0) scale(0.992,1)" x="-4.22">]</text><text transform="translate(368.91 0) scale(0.805,1)" x="-5.45">)</text></g>
<g transform="translate(107.6 734.78) rotate(-90)" font-size="39.38" font-weight="normal" font-style="normal" fill="#262626" stroke="#262626" stroke-width="0.3"><text transform="translate(12.51 0) scale(0.842,1)" x="-13.71">P</text><text transform="translate(34.09 0) scale(1.012,1)" x="-10.95">o</text><text transform="translate(52.96 0) scale(1.273,1)" x="-5.62">t</text><text transform="translate(71.83 0) scale(1.029,1)" x="-10.91">e</text><text transform="translate(95.32 0) scale(1.027,1)" x="-10.98">n</text><text transform="translate(114.51 0) scale(1.273,1)" x="-5.62">t</text><text transform="translate(127.02 0) scale(0.974,1)" x="-4.36">i</text><text transform="translate(143.13 0) scale(0.856,1)" x="-11.79">a</text><text transform="translate(160.42 0) scale(0.974,1)" x="-4.38">l</text><text transform="translate(184.95 0) scale(1.273,1)" x="-5.62">t</text><text transform="translate(203.81 0) scale(1.029,1)" x="-10.91">e</text><text transform="translate(233.69 0) scale(1.085,1)" x="-16.41">m</text><text transform="translate(264.42 0) scale(1.036,1)" x="-11.39">p</text><text transform="translate(287.22 0) scale(1.029,1)" x="-10.91">e</text><text transform="translate(308.13 0) scale(1.220,1)" x="-7.54">r</text><text transform="translate(325.05 0) scale(0.856,1)" x="-11.79">a</text><text transform="translate(344.52 0) scale(1.273,1)" x="-5.62">t</text><text transform="translate(363.59 0) scale(1.027,1)" x="-10.92">u</text><text transform="translate(385.00 0) scale(1.220,1)" x="-7.54">r</text><text transform="translate(402.58 0) scale(1.029,1)" x="-10.91">e</text></g>
<g transform="translate(108.0 308.00) rotate(-90)" font-size="30.47" font-weight="normal" font-style="italic" fill="#262626" stroke="#262626" stroke-width="0.25"><text transform="translate(10.36 0) scale(0.978,1)" x="-10.17">σ</text></g>
<g transform="translate(127.0 284.43) rotate(-90)" font-size="31.06" font-weight="normal" font-style="normal" fill="#262626" stroke="#262626" stroke-width="0.25"><text transform="translate(9.31 0) scale(0.994,1)" x="-8.64">0</text></g>
<g transform="translate(107.6 254.52) rotate(-90)" font-size="39.38" font-weight="normal" font-style="normal" fill="#262626" stroke="#262626" stroke-width="0.3"><text transform="translate(7.42 0) scale(0.805,1)" x="-7.66">(</text><text transform="translate(24.01 0) scale(1.052,1)" x="-7.86">°</text><text transform="translate(46.51 0) scale(0.884,1)" x="-14.47">C</text><text transform="translate(66.77 0) scale(0.805,1)" x="-5.45">)</text></g>
<g transform="translate(-57.91 46.60)" font-size="48.90" font-weight="bold" font-style="normal" fill="#000" stroke="#000" stroke-width="0.7" stroke-linejoin="round"><text transform="translate(16.48 0) scale(0.900,1)" x="-16.06">S</text><text transform="translate(51.30 0) scale(0.969,1)" x="-18.50">G</text><text transform="translate(86.79 0) scale(1.034,1)" x="-13.67">5</text><text transform="translate(119.54 0) scale(1.036,1)" x="-14.46">1</text><text transform="translate(150.44 0) scale(1.183,1)" x="-13.56">0</text><text transform="translate(200.11 0) scale(1.068,1)" x="-17.62">A</text><text transform="translate(225.72 0) scale(1.195,1)" x="-6.77">l</text><text transform="translate(244.31 0) scale(1.343,1)" x="-8.14">t</text><text transform="translate(270.93 0) scale(1.140,1)" x="-13.72">e</text><text transform="translate(299.77 0) scale(1.237,1)" x="-10.76">r</text><text transform="translate(341.27 0) scale(0.866,1)" x="-16.99">E</text><text transform="translate(369.56 0) scale(0.928,1)" x="-13.84">c</text><text transform="translate(399.45 0) scale(1.058,1)" x="-14.94">o</text><text transform="translate(453.98 0) scale(1.088,1)" x="-20.37">M</text><text transform="translate(491.46 0) scale(0.973,1)" x="-14.47">a</text><text transform="translate(520.92 0) scale(1.237,1)" x="-10.76">r</text><text transform="translate(537.96 0) scale(1.450,1)" x="-6.82">,</text><text transform="translate(579.27 0) scale(1.092,1)" x="-14.33">d</text><text transform="translate(604.44 0) scale(1.195,1)" x="-6.77">i</text><text transform="translate(627.26 0) scale(1.065,1)" x="-13.59">v</text><text transform="translate(657.63 0) scale(1.140,1)" x="-13.72">e</text><text transform="translate(705.20 0) scale(1.088,1)" x="-13.62">8</text><text transform="translate(737.11 0) scale(1.059,1)" x="-13.84">4</text><text transform="translate(770.05 0) scale(1.036,1)" x="-14.46">1</text><text transform="translate(814.71 0) scale(0.969,1)" x="-13.45">s</text><text transform="translate(838.99 0) scale(1.343,1)" x="-8.14">t</text><text transform="translate(864.83 0) scale(0.973,1)" x="-14.47">a</text><text transform="translate(894.29 0) scale(1.237,1)" x="-10.76">r</text><text transform="translate(914.48 0) scale(1.343,1)" x="-8.14">t</text><text transform="translate(941.09 0) scale(1.140,1)" x="-13.72">e</text><text transform="translate(972.29 0) scale(1.092,1)" x="-14.33">d</text><text transform="translate(1021.34 0) scale(1.032,1)" x="-13.47">2</text><text transform="translate(1053.40 0) scale(1.059,1)" x="-13.84">4</text><text transform="translate(1078.90 0) scale(1.133,1)" x="-8.12">-</text><text transform="translate(1111.22 0) scale(1.088,1)" x="-20.37">M</text><text transform="translate(1148.71 0) scale(0.973,1)" x="-14.47">a</text><text transform="translate(1178.16 0) scale(1.237,1)" x="-10.76">r</text><text transform="translate(1197.13 0) scale(1.133,1)" x="-8.12">-</text><text transform="translate(1222.42 0) scale(1.032,1)" x="-13.47">2</text><text transform="translate(1254.51 0) scale(1.183,1)" x="-13.56">0</text><text transform="translate(1287.43 0) scale(1.036,1)" x="-14.46">1</text><text transform="translate(1318.31 0) scale(1.088,1)" x="-13.62">8</text><text transform="translate(1367.21 0) scale(1.036,1)" x="-14.46">1</text><text transform="translate(1398.09 0) scale(1.059,1)" x="-13.84">4</text><text transform="translate(1423.24 0) scale(1.176,1)" x="-8.14">:</text><text transform="translate(1449.37 0) scale(1.036,1)" x="-14.46">1</text><text transform="translate(1480.27 0) scale(1.183,1)" x="-13.56">0</text></g>
<g transform="translate(841.94 927.80)" font-size="33.00" font-weight="normal" font-style="normal" fill="#000" stroke="#000" stroke-width="0.3"><text transform="translate(10.09 0) scale(0.846,1)" x="-11.00">S</text><text transform="translate(31.58 0) scale(0.937,1)" x="-11.92">N</text><text transform="translate(48.56 0) scale(1.026,1)" x="-4.58">:</text><text transform="translate(73.73 0) scale(1.000,1)" x="-9.18">0</text><text transform="translate(93.92 0) scale(0.955,1)" x="-9.63">1</text><text transform="translate(113.50 0) scale(0.960,1)" x="-9.08">3</text><text transform="translate(133.32 0) scale(0.944,1)" x="-9.14">5</text><text transform="translate(174.29 0) scale(0.880,1)" x="-12.13">C</text><text transform="translate(195.88 0) scale(0.955,1)" x="-11.01">A</text><text transform="translate(216.77 0) scale(0.976,1)" x="-9.98">L</text><text transform="translate(229.32 0) scale(1.026,1)" x="-4.58">:</text><text transform="translate(254.76 0) scale(0.955,1)" x="-9.63">1</text><text transform="translate(274.34 0) scale(0.960,1)" x="-9.08">3</text><text transform="translate(294.31 0) scale(1.000,1)" x="-9.18">0</text><text transform="translate(314.18 0) scale(0.978,1)" x="-9.19">7</text><text transform="translate(333.72 0) scale(0.964,1)" x="-9.18">2</text><text transform="translate(354.05 0) scale(1.000,1)" x="-9.18">0</text><text transform="translate(374.25 0) scale(0.955,1)" x="-9.63">1</text><text transform="translate(393.99 0) scale(1.035,1)" x="-9.29">6</text></g>
<rect x="1050.5" y="91.5" width="210" height="123" fill="#fff" stroke="#262626" stroke-width="1.05"/>
<path d="M1085.90 112.00L1094.90 112.00L1090.40 119.60Z" fill="#00f"/>
<path d="M1090.10 148.50L1094.60 155.90L1085.60 155.90Z" fill="#f00"/>
<path d="M1121.60 191.20L1117.31 198.45L1105.60 203.76L1089.60 205.70L1073.60 203.76L1061.89 198.45L1057.60 191.20L1061.89 183.95L1073.60 178.64L1089.60 176.70L1105.60 178.64L1117.31 183.95Z M1110.90 191.30L1108.10 196.50L1100.45 200.31L1090.00 201.70L1079.55 200.31L1071.90 196.50L1069.10 191.30L1071.90 186.10L1079.55 182.29L1090.00 180.90L1100.45 182.29L1108.10 186.10Z M1100.80 191.30L1099.35 194.05L1095.40 196.06L1090.00 196.80L1084.60 196.06L1080.65 194.05L1079.20 191.30L1080.65 188.55L1084.60 186.54L1090.00 185.80L1095.40 186.54L1099.35 188.55Z" fill="none" stroke="#000" stroke-width="1.0"/>
<g transform="translate(1126.87 124.80)" font-size="32.60" font-weight="normal" font-style="normal" fill="#000" stroke="#000" stroke-width="0.25"><text transform="translate(9.38 0) scale(1.044,1)" x="-8.70">d</text><text transform="translate(29.53 0) scale(1.037,1)" x="-9.03">e</text><text transform="translate(47.36 0) scale(0.920,1)" x="-8.01">s</text><text transform="translate(63.93 0) scale(0.963,1)" x="-8.41">c</text><text transform="translate(82.30 0) scale(1.037,1)" x="-9.03">e</text><text transform="translate(101.91 0) scale(1.035,1)" x="-9.09">n</text><text transform="translate(117.92 0) scale(1.283,1)" x="-4.66">t</text></g>
<g transform="translate(1126.72 162.40)" font-size="32.60" font-weight="normal" font-style="normal" fill="#000" stroke="#000" stroke-width="0.25"><text transform="translate(9.11 0) scale(0.863,1)" x="-9.76">a</text><text transform="translate(27.42 0) scale(0.920,1)" x="-8.01">s</text><text transform="translate(43.99 0) scale(0.963,1)" x="-8.41">c</text><text transform="translate(62.36 0) scale(1.037,1)" x="-9.03">e</text><text transform="translate(81.96 0) scale(1.035,1)" x="-9.09">n</text><text transform="translate(97.97 0) scale(1.283,1)" x="-4.66">t</text></g>
<g transform="translate(1126.87 202.00)" font-size="32.60" font-weight="normal" font-style="normal" fill="#000" stroke="#000" stroke-width="0.25"><text transform="translate(9.38 0) scale(1.044,1)" x="-8.70">d</text><text transform="translate(28.98 0) scale(0.863,1)" x="-9.76">a</text><text transform="translate(45.23 0) scale(1.283,1)" x="-4.66">t</text><text transform="translate(60.43 0) scale(0.863,1)" x="-9.76">a</text><text transform="translate(80.73 0) scale(0.967,1)" x="-9.51">1</text></g></svg>
</body></html>
